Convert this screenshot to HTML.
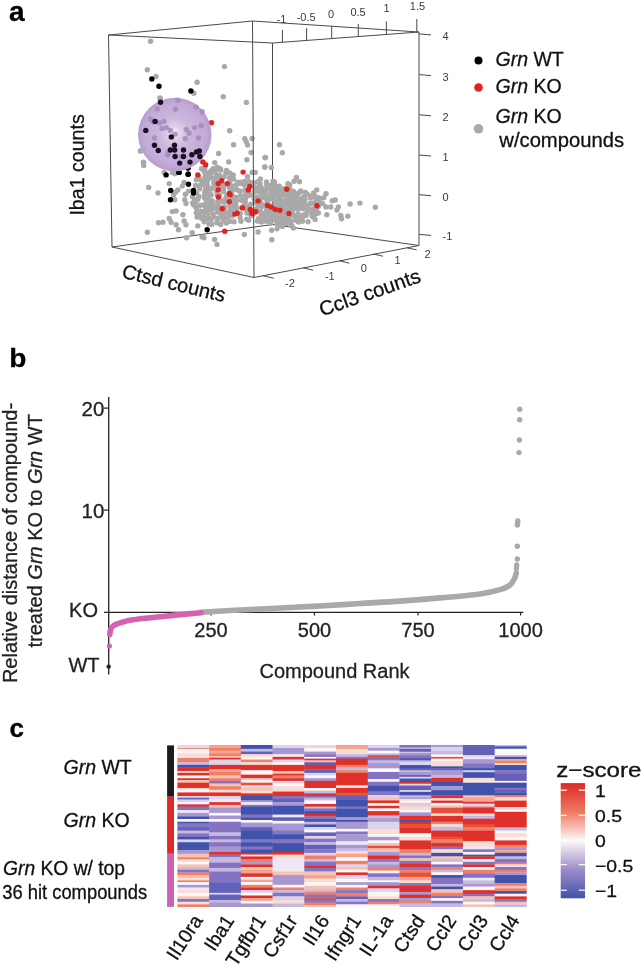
<!DOCTYPE html>
<html><head><meta charset="utf-8"><style>
html,body{margin:0;padding:0;background:#fff;width:643px;height:967px;overflow:hidden;}
svg{display:block;will-change:transform;}
text{font-family:"Liberation Sans",sans-serif;}
</style></head><body>
<svg width="643" height="967" viewBox="0 0 643 967">
<rect width="643" height="967" fill="#fff"/>
<text x="9" y="21" font-family="Liberation Sans, sans-serif" font-weight="bold" font-size="28" fill="#000" stroke="#000" stroke-width="0.3">a</text>
<line x1="272.5" y1="43" x2="108.5" y2="35" stroke="#4a4a4a" stroke-width="1"/>
<line x1="419" y1="32" x2="272.5" y2="43" stroke="#4a4a4a" stroke-width="1"/>
<line x1="272.5" y1="224.5" x2="112" y2="247" stroke="#4a4a4a" stroke-width="1"/>
<line x1="419" y1="245.5" x2="272.5" y2="224.5" stroke="#4a4a4a" stroke-width="1"/>
<line x1="272.5" y1="43" x2="272.5" y2="224.5" stroke="#4a4a4a" stroke-width="1"/>
<line x1="282.4" y1="42.3" x2="282.4" y2="29.9" stroke="#4a4a4a" stroke-width="1"/>
<text x="281.4" y="22.9" font-family="Liberation Sans, sans-serif" font-size="11" fill="#3a3a3a" text-anchor="middle">-1</text>
<line x1="306.6" y1="40.5" x2="306.6" y2="27.9" stroke="#4a4a4a" stroke-width="1"/>
<text x="306.2" y="21.1" font-family="Liberation Sans, sans-serif" font-size="11" fill="#3a3a3a" text-anchor="middle">-0.5</text>
<line x1="331.7" y1="38.6" x2="331.7" y2="25.9" stroke="#4a4a4a" stroke-width="1"/>
<text x="331.1" y="17.9" font-family="Liberation Sans, sans-serif" font-size="11" fill="#3a3a3a" text-anchor="middle">0</text>
<line x1="358.3" y1="36.6" x2="358.3" y2="23.9" stroke="#4a4a4a" stroke-width="1"/>
<text x="358.1" y="15.7" font-family="Liberation Sans, sans-serif" font-size="11" fill="#3a3a3a" text-anchor="middle">0.5</text>
<line x1="386.4" y1="34.5" x2="386.4" y2="21.4" stroke="#4a4a4a" stroke-width="1"/>
<text x="386.5" y="12.4" font-family="Liberation Sans, sans-serif" font-size="11" fill="#3a3a3a" text-anchor="middle">1</text>
<line x1="416.8" y1="32.3" x2="416.8" y2="19" stroke="#4a4a4a" stroke-width="1"/>
<text x="417.5" y="10" font-family="Liberation Sans, sans-serif" font-size="11" fill="#3a3a3a" text-anchor="middle">1.5</text>
<line x1="419" y1="33.9" x2="431" y2="34.9" stroke="#4a4a4a" stroke-width="1"/>
<text x="442.5" y="39.9" font-family="Liberation Sans, sans-serif" font-size="11" fill="#3a3a3a">4</text>
<line x1="419" y1="74.6" x2="431" y2="75.6" stroke="#4a4a4a" stroke-width="1"/>
<text x="442.5" y="80.6" font-family="Liberation Sans, sans-serif" font-size="11" fill="#3a3a3a">3</text>
<line x1="419" y1="114.8" x2="431" y2="115.8" stroke="#4a4a4a" stroke-width="1"/>
<text x="442.5" y="120.8" font-family="Liberation Sans, sans-serif" font-size="11" fill="#3a3a3a">2</text>
<line x1="419" y1="155" x2="431" y2="156" stroke="#4a4a4a" stroke-width="1"/>
<text x="442.5" y="161" font-family="Liberation Sans, sans-serif" font-size="11" fill="#3a3a3a">1</text>
<line x1="419" y1="194.7" x2="431" y2="195.7" stroke="#4a4a4a" stroke-width="1"/>
<text x="442.5" y="200.7" font-family="Liberation Sans, sans-serif" font-size="11" fill="#3a3a3a">0</text>
<line x1="419" y1="234.4" x2="431" y2="235.4" stroke="#4a4a4a" stroke-width="1"/>
<text x="442.5" y="240.4" font-family="Liberation Sans, sans-serif" font-size="11" fill="#3a3a3a">-1</text>
<line x1="262.6" y1="275.6" x2="273.8" y2="278.2" stroke="#4a4a4a" stroke-width="1"/>
<line x1="303.2" y1="267.8" x2="313" y2="270.2" stroke="#4a4a4a" stroke-width="1"/>
<line x1="339.6" y1="260.8" x2="349.4" y2="263.2" stroke="#4a4a4a" stroke-width="1"/>
<line x1="373.2" y1="254" x2="383" y2="256.2" stroke="#4a4a4a" stroke-width="1"/>
<line x1="406.8" y1="247.8" x2="416.6" y2="249.8" stroke="#4a4a4a" stroke-width="1"/>
<text x="290" y="287" font-family="Liberation Sans, sans-serif" font-size="11" fill="#3a3a3a" text-anchor="middle">-2</text>
<text x="329.8" y="279.5" font-family="Liberation Sans, sans-serif" font-size="11" fill="#3a3a3a" text-anchor="middle">-1</text>
<text x="363.9" y="271.5" font-family="Liberation Sans, sans-serif" font-size="11" fill="#3a3a3a" text-anchor="middle">0</text>
<text x="397.5" y="264.3" font-family="Liberation Sans, sans-serif" font-size="11" fill="#3a3a3a" text-anchor="middle">1</text>
<text x="427.6" y="258.3" font-family="Liberation Sans, sans-serif" font-size="11" fill="#3a3a3a" text-anchor="middle">2</text>
<text transform="translate(84,215.6) rotate(-90)" font-family="Liberation Sans, sans-serif" font-size="19.6" fill="#111" stroke="#111" stroke-width="0.3">Iba1 counts</text>
<text transform="translate(121,277.5) rotate(13.5)" font-family="Liberation Sans, sans-serif" font-size="20" fill="#111" stroke="#111" stroke-width="0.3">Ctsd counts</text>
<text transform="translate(322,316.5) rotate(-19.2)" font-family="Liberation Sans, sans-serif" font-size="20.3" fill="#111" stroke="#111" stroke-width="0.3">Ccl3 counts</text>
<circle cx="150.6" cy="41.2" r="2.7" fill="#a9a9a9"/>
<circle cx="147.3" cy="69.8" r="2.7" fill="#a9a9a9"/>
<circle cx="156.0" cy="76.5" r="2.7" fill="#a9a9a9"/>
<circle cx="197.1" cy="82.3" r="2.7" fill="#a9a9a9"/>
<circle cx="193.9" cy="93.2" r="2.7" fill="#a9a9a9"/>
<circle cx="224.5" cy="66.6" r="2.7" fill="#a9a9a9"/>
<circle cx="223.2" cy="96.7" r="2.7" fill="#a9a9a9"/>
<circle cx="246.4" cy="102.4" r="2.7" fill="#a9a9a9"/>
<circle cx="160.3" cy="99.2" r="2.7" fill="#a9a9a9"/>
<circle cx="229.7" cy="130.7" r="2.7" fill="#a9a9a9"/>
<circle cx="244.8" cy="138.8" r="2.7" fill="#a9a9a9"/>
<circle cx="246.2" cy="141.6" r="2.7" fill="#a9a9a9"/>
<circle cx="247.6" cy="145.1" r="2.7" fill="#a9a9a9"/>
<circle cx="252.1" cy="138.5" r="2.7" fill="#a9a9a9"/>
<circle cx="233.6" cy="144.7" r="2.7" fill="#a9a9a9"/>
<circle cx="218.6" cy="153.5" r="2.7" fill="#a9a9a9"/>
<circle cx="228.7" cy="161.9" r="2.7" fill="#a9a9a9"/>
<circle cx="246.9" cy="159.8" r="2.7" fill="#a9a9a9"/>
<circle cx="251.1" cy="152.5" r="2.7" fill="#a9a9a9"/>
<circle cx="265.1" cy="157.4" r="2.7" fill="#a9a9a9"/>
<circle cx="279.5" cy="144.8" r="2.7" fill="#a9a9a9"/>
<circle cx="282.3" cy="152.8" r="2.7" fill="#a9a9a9"/>
<circle cx="264.7" cy="167.1" r="2.7" fill="#a9a9a9"/>
<circle cx="271.4" cy="167.5" r="2.7" fill="#a9a9a9"/>
<circle cx="214.7" cy="162.6" r="2.7" fill="#a9a9a9"/>
<circle cx="255.3" cy="172.4" r="2.7" fill="#a9a9a9"/>
<circle cx="252.1" cy="172.4" r="2.7" fill="#a9a9a9"/>
<circle cx="247.6" cy="176.6" r="2.7" fill="#a9a9a9"/>
<circle cx="143.7" cy="163.1" r="2.7" fill="#a9a9a9"/>
<circle cx="143.7" cy="165.6" r="2.7" fill="#a9a9a9"/>
<circle cx="148.7" cy="187.4" r="2.7" fill="#a9a9a9"/>
<circle cx="158.0" cy="193.0" r="2.7" fill="#a9a9a9"/>
<circle cx="169.2" cy="183.6" r="2.7" fill="#a9a9a9"/>
<circle cx="174.8" cy="173.7" r="2.7" fill="#a9a9a9"/>
<circle cx="172.3" cy="172.4" r="2.7" fill="#a9a9a9"/>
<circle cx="164.2" cy="172.4" r="2.7" fill="#a9a9a9"/>
<circle cx="184.1" cy="182.4" r="2.7" fill="#a9a9a9"/>
<circle cx="182.3" cy="186.1" r="2.7" fill="#a9a9a9"/>
<circle cx="177.9" cy="189.9" r="2.7" fill="#a9a9a9"/>
<circle cx="175.4" cy="192.3" r="2.7" fill="#a9a9a9"/>
<circle cx="173.6" cy="194.8" r="2.7" fill="#a9a9a9"/>
<circle cx="185.4" cy="194.2" r="2.7" fill="#a9a9a9"/>
<circle cx="184.8" cy="199.8" r="2.7" fill="#a9a9a9"/>
<circle cx="174.8" cy="199.8" r="2.7" fill="#a9a9a9"/>
<circle cx="186.0" cy="203.5" r="2.7" fill="#a9a9a9"/>
<circle cx="188.5" cy="191.1" r="2.7" fill="#a9a9a9"/>
<circle cx="172.3" cy="211.6" r="2.7" fill="#a9a9a9"/>
<circle cx="176.1" cy="211.0" r="2.7" fill="#a9a9a9"/>
<circle cx="182.9" cy="214.7" r="2.7" fill="#a9a9a9"/>
<circle cx="169.2" cy="218.5" r="2.7" fill="#a9a9a9"/>
<circle cx="171.1" cy="222.2" r="2.7" fill="#a9a9a9"/>
<circle cx="158.6" cy="222.8" r="2.7" fill="#a9a9a9"/>
<circle cx="163.0" cy="222.2" r="2.7" fill="#a9a9a9"/>
<circle cx="176.1" cy="224.7" r="2.7" fill="#a9a9a9"/>
<circle cx="184.1" cy="221.0" r="2.7" fill="#a9a9a9"/>
<circle cx="186.0" cy="224.7" r="2.7" fill="#a9a9a9"/>
<circle cx="178.5" cy="229.7" r="2.7" fill="#a9a9a9"/>
<circle cx="147.4" cy="232.2" r="2.7" fill="#a9a9a9"/>
<circle cx="197.8" cy="225.9" r="2.7" fill="#a9a9a9"/>
<circle cx="192.2" cy="232.8" r="2.7" fill="#a9a9a9"/>
<circle cx="186.6" cy="237.8" r="2.7" fill="#a9a9a9"/>
<circle cx="204.0" cy="237.8" r="2.7" fill="#a9a9a9"/>
<circle cx="196.0" cy="207.3" r="2.7" fill="#a9a9a9"/>
<circle cx="194.7" cy="199.8" r="2.7" fill="#a9a9a9"/>
<circle cx="140.5" cy="150.9" r="2.7" fill="#a9a9a9"/>
<circle cx="202.1" cy="237.0" r="2.7" fill="#a9a9a9"/>
<circle cx="214.6" cy="239.4" r="2.7" fill="#a9a9a9"/>
<circle cx="217.0" cy="244.4" r="2.7" fill="#a9a9a9"/>
<circle cx="244.4" cy="234.5" r="2.7" fill="#a9a9a9"/>
<circle cx="258.1" cy="232.0" r="2.7" fill="#a9a9a9"/>
<circle cx="271.8" cy="239.7" r="2.7" fill="#a9a9a9"/>
<circle cx="296.4" cy="177.4" r="2.7" fill="#a9a9a9"/>
<circle cx="294.1" cy="181.3" r="2.7" fill="#a9a9a9"/>
<circle cx="299.5" cy="181.8" r="2.7" fill="#a9a9a9"/>
<circle cx="287.9" cy="183.7" r="2.7" fill="#a9a9a9"/>
<circle cx="278.6" cy="188.3" r="2.7" fill="#a9a9a9"/>
<circle cx="316.7" cy="189.9" r="2.7" fill="#a9a9a9"/>
<circle cx="313.5" cy="193.0" r="2.7" fill="#a9a9a9"/>
<circle cx="326.0" cy="193.8" r="2.7" fill="#a9a9a9"/>
<circle cx="323.7" cy="197.7" r="2.7" fill="#a9a9a9"/>
<circle cx="332.2" cy="200.8" r="2.7" fill="#a9a9a9"/>
<circle cx="335.3" cy="200.0" r="2.7" fill="#a9a9a9"/>
<circle cx="350.1" cy="203.9" r="2.7" fill="#a9a9a9"/>
<circle cx="359.9" cy="203.1" r="2.7" fill="#a9a9a9"/>
<circle cx="326.0" cy="207.0" r="2.7" fill="#a9a9a9"/>
<circle cx="330.7" cy="207.0" r="2.7" fill="#a9a9a9"/>
<circle cx="338.4" cy="207.0" r="2.7" fill="#a9a9a9"/>
<circle cx="336.9" cy="210.1" r="2.7" fill="#a9a9a9"/>
<circle cx="340.8" cy="215.5" r="2.7" fill="#a9a9a9"/>
<circle cx="341.5" cy="218.7" r="2.7" fill="#a9a9a9"/>
<circle cx="347.8" cy="216.3" r="2.7" fill="#a9a9a9"/>
<circle cx="326.8" cy="214.8" r="2.7" fill="#a9a9a9"/>
<circle cx="308.1" cy="221.8" r="2.7" fill="#a9a9a9"/>
<circle cx="315.1" cy="219.4" r="2.7" fill="#a9a9a9"/>
<circle cx="293.3" cy="228.0" r="2.7" fill="#a9a9a9"/>
<circle cx="282.4" cy="226.4" r="2.7" fill="#a9a9a9"/>
<circle cx="277.0" cy="228.8" r="2.7" fill="#a9a9a9"/>
<circle cx="271.6" cy="230.3" r="2.7" fill="#a9a9a9"/>
<circle cx="375.4" cy="207.3" r="2.7" fill="#a9a9a9"/>
<circle cx="265.4" cy="157.7" r="2.7" fill="#a9a9a9"/>
<circle cx="264.8" cy="167.0" r="2.7" fill="#a9a9a9"/>
<circle cx="140.5" cy="150.9" r="2.7" fill="#a9a9a9"/>
<circle cx="143.3" cy="162.1" r="2.7" fill="#a9a9a9"/>
<circle cx="160.0" cy="98.0" r="2.7" fill="#a9a9a9"/>
<circle cx="201.6" cy="168.7" r="2.7" fill="#a9a9a9"/>
<circle cx="205.0" cy="167.4" r="2.7" fill="#a9a9a9"/>
<circle cx="213.2" cy="168.6" r="2.7" fill="#a9a9a9"/>
<circle cx="217.1" cy="167.1" r="2.7" fill="#a9a9a9"/>
<circle cx="220.2" cy="168.7" r="2.7" fill="#a9a9a9"/>
<circle cx="204.4" cy="171.8" r="2.7" fill="#a9a9a9"/>
<circle cx="209.2" cy="172.1" r="2.7" fill="#a9a9a9"/>
<circle cx="211.5" cy="170.5" r="2.7" fill="#a9a9a9"/>
<circle cx="215.8" cy="170.4" r="2.7" fill="#a9a9a9"/>
<circle cx="220.8" cy="170.1" r="2.7" fill="#a9a9a9"/>
<circle cx="226.4" cy="170.5" r="2.7" fill="#a9a9a9"/>
<circle cx="227.5" cy="171.9" r="2.7" fill="#a9a9a9"/>
<circle cx="205.9" cy="174.4" r="2.7" fill="#a9a9a9"/>
<circle cx="207.9" cy="175.6" r="2.7" fill="#a9a9a9"/>
<circle cx="212.1" cy="172.9" r="2.7" fill="#a9a9a9"/>
<circle cx="216.9" cy="175.1" r="2.7" fill="#a9a9a9"/>
<circle cx="219.3" cy="175.3" r="2.7" fill="#a9a9a9"/>
<circle cx="225.9" cy="173.2" r="2.7" fill="#a9a9a9"/>
<circle cx="229.9" cy="173.1" r="2.7" fill="#a9a9a9"/>
<circle cx="233.2" cy="175.0" r="2.7" fill="#a9a9a9"/>
<circle cx="198.8" cy="176.9" r="2.7" fill="#a9a9a9"/>
<circle cx="205.0" cy="177.3" r="2.7" fill="#a9a9a9"/>
<circle cx="208.9" cy="176.6" r="2.7" fill="#a9a9a9"/>
<circle cx="211.4" cy="177.9" r="2.7" fill="#a9a9a9"/>
<circle cx="215.7" cy="177.9" r="2.7" fill="#a9a9a9"/>
<circle cx="220.4" cy="177.6" r="2.7" fill="#a9a9a9"/>
<circle cx="223.8" cy="176.9" r="2.7" fill="#a9a9a9"/>
<circle cx="229.4" cy="177.9" r="2.7" fill="#a9a9a9"/>
<circle cx="233.5" cy="179.0" r="2.7" fill="#a9a9a9"/>
<circle cx="260.5" cy="178.9" r="2.7" fill="#a9a9a9"/>
<circle cx="196.5" cy="179.8" r="2.7" fill="#a9a9a9"/>
<circle cx="201.4" cy="180.4" r="2.7" fill="#a9a9a9"/>
<circle cx="205.2" cy="181.1" r="2.7" fill="#a9a9a9"/>
<circle cx="207.4" cy="181.4" r="2.7" fill="#a9a9a9"/>
<circle cx="213.9" cy="182.4" r="2.7" fill="#a9a9a9"/>
<circle cx="217.9" cy="181.8" r="2.7" fill="#a9a9a9"/>
<circle cx="229.8" cy="182.3" r="2.7" fill="#a9a9a9"/>
<circle cx="237.8" cy="182.3" r="2.7" fill="#a9a9a9"/>
<circle cx="241.0" cy="182.1" r="2.7" fill="#a9a9a9"/>
<circle cx="244.9" cy="181.3" r="2.7" fill="#a9a9a9"/>
<circle cx="249.0" cy="181.8" r="2.7" fill="#a9a9a9"/>
<circle cx="252.7" cy="182.8" r="2.7" fill="#a9a9a9"/>
<circle cx="257.2" cy="181.9" r="2.7" fill="#a9a9a9"/>
<circle cx="266.4" cy="182.0" r="2.7" fill="#a9a9a9"/>
<circle cx="274.5" cy="182.2" r="2.7" fill="#a9a9a9"/>
<circle cx="195.5" cy="185.5" r="2.7" fill="#a9a9a9"/>
<circle cx="199.6" cy="185.7" r="2.7" fill="#a9a9a9"/>
<circle cx="202.8" cy="184.2" r="2.7" fill="#a9a9a9"/>
<circle cx="207.4" cy="185.8" r="2.7" fill="#a9a9a9"/>
<circle cx="213.9" cy="185.8" r="2.7" fill="#a9a9a9"/>
<circle cx="218.3" cy="186.4" r="2.7" fill="#a9a9a9"/>
<circle cx="222.1" cy="184.7" r="2.7" fill="#a9a9a9"/>
<circle cx="226.4" cy="184.1" r="2.7" fill="#a9a9a9"/>
<circle cx="230.4" cy="185.7" r="2.7" fill="#a9a9a9"/>
<circle cx="234.6" cy="186.0" r="2.7" fill="#a9a9a9"/>
<circle cx="236.0" cy="185.4" r="2.7" fill="#a9a9a9"/>
<circle cx="240.4" cy="183.5" r="2.7" fill="#a9a9a9"/>
<circle cx="244.2" cy="184.8" r="2.7" fill="#a9a9a9"/>
<circle cx="249.4" cy="184.2" r="2.7" fill="#a9a9a9"/>
<circle cx="253.3" cy="185.9" r="2.7" fill="#a9a9a9"/>
<circle cx="259.3" cy="186.4" r="2.7" fill="#a9a9a9"/>
<circle cx="266.8" cy="185.4" r="2.7" fill="#a9a9a9"/>
<circle cx="269.3" cy="185.6" r="2.7" fill="#a9a9a9"/>
<circle cx="274.4" cy="185.4" r="2.7" fill="#a9a9a9"/>
<circle cx="289.8" cy="184.7" r="2.7" fill="#a9a9a9"/>
<circle cx="199.7" cy="188.7" r="2.7" fill="#a9a9a9"/>
<circle cx="205.7" cy="188.3" r="2.7" fill="#a9a9a9"/>
<circle cx="207.2" cy="189.7" r="2.7" fill="#a9a9a9"/>
<circle cx="211.3" cy="188.7" r="2.7" fill="#a9a9a9"/>
<circle cx="217.3" cy="187.9" r="2.7" fill="#a9a9a9"/>
<circle cx="219.4" cy="187.6" r="2.7" fill="#a9a9a9"/>
<circle cx="223.6" cy="187.9" r="2.7" fill="#a9a9a9"/>
<circle cx="229.6" cy="187.8" r="2.7" fill="#a9a9a9"/>
<circle cx="232.6" cy="189.3" r="2.7" fill="#a9a9a9"/>
<circle cx="236.0" cy="189.2" r="2.7" fill="#a9a9a9"/>
<circle cx="245.2" cy="189.5" r="2.7" fill="#a9a9a9"/>
<circle cx="254.9" cy="187.7" r="2.7" fill="#a9a9a9"/>
<circle cx="257.3" cy="188.1" r="2.7" fill="#a9a9a9"/>
<circle cx="261.4" cy="187.6" r="2.7" fill="#a9a9a9"/>
<circle cx="266.9" cy="188.7" r="2.7" fill="#a9a9a9"/>
<circle cx="270.2" cy="187.5" r="2.7" fill="#a9a9a9"/>
<circle cx="275.3" cy="187.8" r="2.7" fill="#a9a9a9"/>
<circle cx="278.3" cy="188.7" r="2.7" fill="#a9a9a9"/>
<circle cx="283.8" cy="189.0" r="2.7" fill="#a9a9a9"/>
<circle cx="285.0" cy="188.7" r="2.7" fill="#a9a9a9"/>
<circle cx="289.2" cy="187.2" r="2.7" fill="#a9a9a9"/>
<circle cx="196.7" cy="193.2" r="2.7" fill="#a9a9a9"/>
<circle cx="204.8" cy="192.2" r="2.7" fill="#a9a9a9"/>
<circle cx="209.5" cy="191.9" r="2.7" fill="#a9a9a9"/>
<circle cx="216.3" cy="191.0" r="2.7" fill="#a9a9a9"/>
<circle cx="223.5" cy="191.5" r="2.7" fill="#a9a9a9"/>
<circle cx="229.5" cy="193.0" r="2.7" fill="#a9a9a9"/>
<circle cx="231.7" cy="192.0" r="2.7" fill="#a9a9a9"/>
<circle cx="238.5" cy="190.6" r="2.7" fill="#a9a9a9"/>
<circle cx="240.3" cy="191.2" r="2.7" fill="#a9a9a9"/>
<circle cx="246.1" cy="192.4" r="2.7" fill="#a9a9a9"/>
<circle cx="248.5" cy="191.4" r="2.7" fill="#a9a9a9"/>
<circle cx="254.4" cy="191.5" r="2.7" fill="#a9a9a9"/>
<circle cx="258.7" cy="192.0" r="2.7" fill="#a9a9a9"/>
<circle cx="263.0" cy="193.4" r="2.7" fill="#a9a9a9"/>
<circle cx="266.1" cy="193.6" r="2.7" fill="#a9a9a9"/>
<circle cx="275.1" cy="191.7" r="2.7" fill="#a9a9a9"/>
<circle cx="282.8" cy="191.3" r="2.7" fill="#a9a9a9"/>
<circle cx="286.3" cy="191.7" r="2.7" fill="#a9a9a9"/>
<circle cx="291.2" cy="192.4" r="2.7" fill="#a9a9a9"/>
<circle cx="293.5" cy="191.5" r="2.7" fill="#a9a9a9"/>
<circle cx="299.9" cy="192.2" r="2.7" fill="#a9a9a9"/>
<circle cx="192.4" cy="196.8" r="2.7" fill="#a9a9a9"/>
<circle cx="199.0" cy="196.7" r="2.7" fill="#a9a9a9"/>
<circle cx="204.5" cy="195.8" r="2.7" fill="#a9a9a9"/>
<circle cx="209.6" cy="195.1" r="2.7" fill="#a9a9a9"/>
<circle cx="211.2" cy="195.0" r="2.7" fill="#a9a9a9"/>
<circle cx="217.4" cy="195.2" r="2.7" fill="#a9a9a9"/>
<circle cx="219.5" cy="195.3" r="2.7" fill="#a9a9a9"/>
<circle cx="226.4" cy="196.7" r="2.7" fill="#a9a9a9"/>
<circle cx="227.4" cy="195.3" r="2.7" fill="#a9a9a9"/>
<circle cx="232.3" cy="195.9" r="2.7" fill="#a9a9a9"/>
<circle cx="235.6" cy="197.2" r="2.7" fill="#a9a9a9"/>
<circle cx="240.4" cy="196.0" r="2.7" fill="#a9a9a9"/>
<circle cx="245.0" cy="195.8" r="2.7" fill="#a9a9a9"/>
<circle cx="249.0" cy="195.3" r="2.7" fill="#a9a9a9"/>
<circle cx="252.8" cy="194.7" r="2.7" fill="#a9a9a9"/>
<circle cx="257.2" cy="197.1" r="2.7" fill="#a9a9a9"/>
<circle cx="262.5" cy="195.1" r="2.7" fill="#a9a9a9"/>
<circle cx="264.6" cy="194.5" r="2.7" fill="#a9a9a9"/>
<circle cx="270.6" cy="196.3" r="2.7" fill="#a9a9a9"/>
<circle cx="273.8" cy="196.7" r="2.7" fill="#a9a9a9"/>
<circle cx="276.9" cy="194.8" r="2.7" fill="#a9a9a9"/>
<circle cx="281.1" cy="195.4" r="2.7" fill="#a9a9a9"/>
<circle cx="287.7" cy="195.4" r="2.7" fill="#a9a9a9"/>
<circle cx="291.0" cy="196.5" r="2.7" fill="#a9a9a9"/>
<circle cx="294.2" cy="195.1" r="2.7" fill="#a9a9a9"/>
<circle cx="297.1" cy="195.4" r="2.7" fill="#a9a9a9"/>
<circle cx="304.3" cy="196.6" r="2.7" fill="#a9a9a9"/>
<circle cx="307.2" cy="194.1" r="2.7" fill="#a9a9a9"/>
<circle cx="310.5" cy="196.2" r="2.7" fill="#a9a9a9"/>
<circle cx="314.7" cy="195.7" r="2.7" fill="#a9a9a9"/>
<circle cx="197.8" cy="199.3" r="2.7" fill="#a9a9a9"/>
<circle cx="204.8" cy="198.3" r="2.7" fill="#a9a9a9"/>
<circle cx="207.7" cy="199.5" r="2.7" fill="#a9a9a9"/>
<circle cx="212.1" cy="200.6" r="2.7" fill="#a9a9a9"/>
<circle cx="219.6" cy="200.5" r="2.7" fill="#a9a9a9"/>
<circle cx="225.1" cy="199.4" r="2.7" fill="#a9a9a9"/>
<circle cx="230.3" cy="200.8" r="2.7" fill="#a9a9a9"/>
<circle cx="233.4" cy="198.0" r="2.7" fill="#a9a9a9"/>
<circle cx="236.5" cy="200.5" r="2.7" fill="#a9a9a9"/>
<circle cx="241.5" cy="200.3" r="2.7" fill="#a9a9a9"/>
<circle cx="245.6" cy="197.9" r="2.7" fill="#a9a9a9"/>
<circle cx="254.1" cy="198.6" r="2.7" fill="#a9a9a9"/>
<circle cx="258.5" cy="198.9" r="2.7" fill="#a9a9a9"/>
<circle cx="262.8" cy="197.7" r="2.7" fill="#a9a9a9"/>
<circle cx="265.8" cy="198.1" r="2.7" fill="#a9a9a9"/>
<circle cx="270.2" cy="198.2" r="2.7" fill="#a9a9a9"/>
<circle cx="273.3" cy="199.5" r="2.7" fill="#a9a9a9"/>
<circle cx="278.7" cy="197.8" r="2.7" fill="#a9a9a9"/>
<circle cx="281.2" cy="200.7" r="2.7" fill="#a9a9a9"/>
<circle cx="286.3" cy="199.0" r="2.7" fill="#a9a9a9"/>
<circle cx="291.1" cy="200.1" r="2.7" fill="#a9a9a9"/>
<circle cx="294.6" cy="200.8" r="2.7" fill="#a9a9a9"/>
<circle cx="299.8" cy="198.9" r="2.7" fill="#a9a9a9"/>
<circle cx="303.0" cy="200.5" r="2.7" fill="#a9a9a9"/>
<circle cx="310.4" cy="197.8" r="2.7" fill="#a9a9a9"/>
<circle cx="316.4" cy="200.0" r="2.7" fill="#a9a9a9"/>
<circle cx="320.0" cy="198.6" r="2.7" fill="#a9a9a9"/>
<circle cx="192.7" cy="202.9" r="2.7" fill="#a9a9a9"/>
<circle cx="195.6" cy="202.5" r="2.7" fill="#a9a9a9"/>
<circle cx="204.9" cy="204.0" r="2.7" fill="#a9a9a9"/>
<circle cx="209.5" cy="201.9" r="2.7" fill="#a9a9a9"/>
<circle cx="212.8" cy="204.1" r="2.7" fill="#a9a9a9"/>
<circle cx="217.6" cy="201.6" r="2.7" fill="#a9a9a9"/>
<circle cx="222.2" cy="201.2" r="2.7" fill="#a9a9a9"/>
<circle cx="224.3" cy="202.2" r="2.7" fill="#a9a9a9"/>
<circle cx="230.3" cy="203.8" r="2.7" fill="#a9a9a9"/>
<circle cx="232.6" cy="203.1" r="2.7" fill="#a9a9a9"/>
<circle cx="235.7" cy="204.1" r="2.7" fill="#a9a9a9"/>
<circle cx="245.3" cy="201.9" r="2.7" fill="#a9a9a9"/>
<circle cx="250.9" cy="204.1" r="2.7" fill="#a9a9a9"/>
<circle cx="254.7" cy="202.3" r="2.7" fill="#a9a9a9"/>
<circle cx="260.8" cy="203.2" r="2.7" fill="#a9a9a9"/>
<circle cx="267.1" cy="201.4" r="2.7" fill="#a9a9a9"/>
<circle cx="275.3" cy="203.5" r="2.7" fill="#a9a9a9"/>
<circle cx="278.8" cy="204.2" r="2.7" fill="#a9a9a9"/>
<circle cx="281.0" cy="201.9" r="2.7" fill="#a9a9a9"/>
<circle cx="287.1" cy="201.8" r="2.7" fill="#a9a9a9"/>
<circle cx="289.7" cy="203.3" r="2.7" fill="#a9a9a9"/>
<circle cx="299.0" cy="201.9" r="2.7" fill="#a9a9a9"/>
<circle cx="304.2" cy="203.3" r="2.7" fill="#a9a9a9"/>
<circle cx="310.8" cy="202.9" r="2.7" fill="#a9a9a9"/>
<circle cx="313.6" cy="203.1" r="2.7" fill="#a9a9a9"/>
<circle cx="318.4" cy="203.8" r="2.7" fill="#a9a9a9"/>
<circle cx="322.6" cy="203.6" r="2.7" fill="#a9a9a9"/>
<circle cx="193.7" cy="204.9" r="2.7" fill="#a9a9a9"/>
<circle cx="200.3" cy="205.3" r="2.7" fill="#a9a9a9"/>
<circle cx="204.9" cy="205.9" r="2.7" fill="#a9a9a9"/>
<circle cx="209.4" cy="206.4" r="2.7" fill="#a9a9a9"/>
<circle cx="213.7" cy="207.0" r="2.7" fill="#a9a9a9"/>
<circle cx="218.1" cy="205.3" r="2.7" fill="#a9a9a9"/>
<circle cx="219.7" cy="206.7" r="2.7" fill="#a9a9a9"/>
<circle cx="224.7" cy="207.2" r="2.7" fill="#a9a9a9"/>
<circle cx="229.9" cy="205.5" r="2.7" fill="#a9a9a9"/>
<circle cx="232.2" cy="206.6" r="2.7" fill="#a9a9a9"/>
<circle cx="235.7" cy="206.7" r="2.7" fill="#a9a9a9"/>
<circle cx="241.5" cy="207.6" r="2.7" fill="#a9a9a9"/>
<circle cx="244.3" cy="204.8" r="2.7" fill="#a9a9a9"/>
<circle cx="249.3" cy="206.2" r="2.7" fill="#a9a9a9"/>
<circle cx="257.9" cy="206.5" r="2.7" fill="#a9a9a9"/>
<circle cx="261.0" cy="205.2" r="2.7" fill="#a9a9a9"/>
<circle cx="264.4" cy="205.8" r="2.7" fill="#a9a9a9"/>
<circle cx="270.1" cy="205.6" r="2.7" fill="#a9a9a9"/>
<circle cx="272.8" cy="207.4" r="2.7" fill="#a9a9a9"/>
<circle cx="277.4" cy="205.3" r="2.7" fill="#a9a9a9"/>
<circle cx="283.4" cy="207.3" r="2.7" fill="#a9a9a9"/>
<circle cx="286.1" cy="205.9" r="2.7" fill="#a9a9a9"/>
<circle cx="292.0" cy="204.9" r="2.7" fill="#a9a9a9"/>
<circle cx="295.4" cy="207.9" r="2.7" fill="#a9a9a9"/>
<circle cx="298.6" cy="207.2" r="2.7" fill="#a9a9a9"/>
<circle cx="302.0" cy="207.6" r="2.7" fill="#a9a9a9"/>
<circle cx="306.6" cy="205.7" r="2.7" fill="#a9a9a9"/>
<circle cx="315.9" cy="207.1" r="2.7" fill="#a9a9a9"/>
<circle cx="318.4" cy="206.5" r="2.7" fill="#a9a9a9"/>
<circle cx="196.7" cy="208.5" r="2.7" fill="#a9a9a9"/>
<circle cx="200.9" cy="211.1" r="2.7" fill="#a9a9a9"/>
<circle cx="205.6" cy="209.8" r="2.7" fill="#a9a9a9"/>
<circle cx="209.6" cy="209.6" r="2.7" fill="#a9a9a9"/>
<circle cx="211.7" cy="209.4" r="2.7" fill="#a9a9a9"/>
<circle cx="216.9" cy="208.9" r="2.7" fill="#a9a9a9"/>
<circle cx="219.9" cy="209.8" r="2.7" fill="#a9a9a9"/>
<circle cx="224.7" cy="211.5" r="2.7" fill="#a9a9a9"/>
<circle cx="230.2" cy="209.0" r="2.7" fill="#a9a9a9"/>
<circle cx="231.7" cy="210.6" r="2.7" fill="#a9a9a9"/>
<circle cx="236.5" cy="208.4" r="2.7" fill="#a9a9a9"/>
<circle cx="246.1" cy="209.2" r="2.7" fill="#a9a9a9"/>
<circle cx="248.4" cy="211.3" r="2.7" fill="#a9a9a9"/>
<circle cx="256.2" cy="209.4" r="2.7" fill="#a9a9a9"/>
<circle cx="260.5" cy="211.2" r="2.7" fill="#a9a9a9"/>
<circle cx="266.8" cy="210.0" r="2.7" fill="#a9a9a9"/>
<circle cx="269.7" cy="209.1" r="2.7" fill="#a9a9a9"/>
<circle cx="273.0" cy="210.2" r="2.7" fill="#a9a9a9"/>
<circle cx="277.6" cy="209.7" r="2.7" fill="#a9a9a9"/>
<circle cx="281.1" cy="210.6" r="2.7" fill="#a9a9a9"/>
<circle cx="287.1" cy="210.5" r="2.7" fill="#a9a9a9"/>
<circle cx="289.6" cy="209.2" r="2.7" fill="#a9a9a9"/>
<circle cx="297.8" cy="209.3" r="2.7" fill="#a9a9a9"/>
<circle cx="301.9" cy="208.5" r="2.7" fill="#a9a9a9"/>
<circle cx="307.3" cy="210.1" r="2.7" fill="#a9a9a9"/>
<circle cx="312.5" cy="209.3" r="2.7" fill="#a9a9a9"/>
<circle cx="316.4" cy="209.0" r="2.7" fill="#a9a9a9"/>
<circle cx="196.2" cy="212.8" r="2.7" fill="#a9a9a9"/>
<circle cx="200.0" cy="213.4" r="2.7" fill="#a9a9a9"/>
<circle cx="204.9" cy="212.7" r="2.7" fill="#a9a9a9"/>
<circle cx="208.0" cy="213.3" r="2.7" fill="#a9a9a9"/>
<circle cx="212.9" cy="214.1" r="2.7" fill="#a9a9a9"/>
<circle cx="217.3" cy="212.0" r="2.7" fill="#a9a9a9"/>
<circle cx="220.4" cy="212.1" r="2.7" fill="#a9a9a9"/>
<circle cx="223.5" cy="213.5" r="2.7" fill="#a9a9a9"/>
<circle cx="228.9" cy="212.9" r="2.7" fill="#a9a9a9"/>
<circle cx="237.4" cy="212.7" r="2.7" fill="#a9a9a9"/>
<circle cx="240.3" cy="213.4" r="2.7" fill="#a9a9a9"/>
<circle cx="246.9" cy="213.1" r="2.7" fill="#a9a9a9"/>
<circle cx="250.9" cy="214.4" r="2.7" fill="#a9a9a9"/>
<circle cx="254.0" cy="213.2" r="2.7" fill="#a9a9a9"/>
<circle cx="261.4" cy="214.8" r="2.7" fill="#a9a9a9"/>
<circle cx="264.7" cy="213.5" r="2.7" fill="#a9a9a9"/>
<circle cx="269.6" cy="215.0" r="2.7" fill="#a9a9a9"/>
<circle cx="273.1" cy="212.6" r="2.7" fill="#a9a9a9"/>
<circle cx="277.4" cy="211.9" r="2.7" fill="#a9a9a9"/>
<circle cx="282.0" cy="212.7" r="2.7" fill="#a9a9a9"/>
<circle cx="286.9" cy="213.7" r="2.7" fill="#a9a9a9"/>
<circle cx="298.1" cy="214.2" r="2.7" fill="#a9a9a9"/>
<circle cx="303.4" cy="215.0" r="2.7" fill="#a9a9a9"/>
<circle cx="305.8" cy="213.9" r="2.7" fill="#a9a9a9"/>
<circle cx="311.2" cy="213.1" r="2.7" fill="#a9a9a9"/>
<circle cx="315.9" cy="213.6" r="2.7" fill="#a9a9a9"/>
<circle cx="318.4" cy="212.9" r="2.7" fill="#a9a9a9"/>
<circle cx="197.1" cy="217.0" r="2.7" fill="#a9a9a9"/>
<circle cx="201.5" cy="218.3" r="2.7" fill="#a9a9a9"/>
<circle cx="203.6" cy="217.1" r="2.7" fill="#a9a9a9"/>
<circle cx="208.2" cy="217.8" r="2.7" fill="#a9a9a9"/>
<circle cx="213.3" cy="216.5" r="2.7" fill="#a9a9a9"/>
<circle cx="217.5" cy="218.2" r="2.7" fill="#a9a9a9"/>
<circle cx="221.0" cy="216.8" r="2.7" fill="#a9a9a9"/>
<circle cx="225.3" cy="218.1" r="2.7" fill="#a9a9a9"/>
<circle cx="227.8" cy="216.7" r="2.7" fill="#a9a9a9"/>
<circle cx="232.2" cy="216.1" r="2.7" fill="#a9a9a9"/>
<circle cx="240.1" cy="217.7" r="2.7" fill="#a9a9a9"/>
<circle cx="251.1" cy="215.6" r="2.7" fill="#a9a9a9"/>
<circle cx="252.4" cy="215.6" r="2.7" fill="#a9a9a9"/>
<circle cx="258.4" cy="218.7" r="2.7" fill="#a9a9a9"/>
<circle cx="261.3" cy="215.6" r="2.7" fill="#a9a9a9"/>
<circle cx="265.8" cy="216.7" r="2.7" fill="#a9a9a9"/>
<circle cx="271.0" cy="218.2" r="2.7" fill="#a9a9a9"/>
<circle cx="273.8" cy="217.4" r="2.7" fill="#a9a9a9"/>
<circle cx="279.7" cy="216.7" r="2.7" fill="#a9a9a9"/>
<circle cx="282.4" cy="218.0" r="2.7" fill="#a9a9a9"/>
<circle cx="289.7" cy="217.0" r="2.7" fill="#a9a9a9"/>
<circle cx="294.0" cy="215.5" r="2.7" fill="#a9a9a9"/>
<circle cx="297.6" cy="217.5" r="2.7" fill="#a9a9a9"/>
<circle cx="301.9" cy="217.0" r="2.7" fill="#a9a9a9"/>
<circle cx="306.1" cy="215.6" r="2.7" fill="#a9a9a9"/>
<circle cx="312.3" cy="216.5" r="2.7" fill="#a9a9a9"/>
<circle cx="204.2" cy="221.7" r="2.7" fill="#a9a9a9"/>
<circle cx="207.5" cy="219.1" r="2.7" fill="#a9a9a9"/>
<circle cx="211.4" cy="219.3" r="2.7" fill="#a9a9a9"/>
<circle cx="217.5" cy="220.0" r="2.7" fill="#a9a9a9"/>
<circle cx="223.3" cy="220.7" r="2.7" fill="#a9a9a9"/>
<circle cx="229.9" cy="221.4" r="2.7" fill="#a9a9a9"/>
<circle cx="234.1" cy="221.7" r="2.7" fill="#a9a9a9"/>
<circle cx="241.0" cy="221.3" r="2.7" fill="#a9a9a9"/>
<circle cx="246.7" cy="219.1" r="2.7" fill="#a9a9a9"/>
<circle cx="248.6" cy="220.3" r="2.7" fill="#a9a9a9"/>
<circle cx="257.3" cy="221.1" r="2.7" fill="#a9a9a9"/>
<circle cx="261.1" cy="221.9" r="2.7" fill="#a9a9a9"/>
<circle cx="264.6" cy="220.1" r="2.7" fill="#a9a9a9"/>
<circle cx="269.1" cy="221.4" r="2.7" fill="#a9a9a9"/>
<circle cx="274.7" cy="219.6" r="2.7" fill="#a9a9a9"/>
<circle cx="277.1" cy="220.2" r="2.7" fill="#a9a9a9"/>
<circle cx="280.7" cy="220.6" r="2.7" fill="#a9a9a9"/>
<circle cx="289.6" cy="221.9" r="2.7" fill="#a9a9a9"/>
<circle cx="298.5" cy="222.1" r="2.7" fill="#a9a9a9"/>
<circle cx="302.5" cy="221.3" r="2.7" fill="#a9a9a9"/>
<circle cx="209.0" cy="223.9" r="2.7" fill="#a9a9a9"/>
<circle cx="211.7" cy="224.5" r="2.7" fill="#a9a9a9"/>
<circle cx="216.7" cy="222.7" r="2.7" fill="#a9a9a9"/>
<circle cx="220.6" cy="224.5" r="2.7" fill="#a9a9a9"/>
<circle cx="226.3" cy="223.1" r="2.7" fill="#a9a9a9"/>
<circle cx="270.7" cy="223.4" r="2.7" fill="#a9a9a9"/>
<circle cx="277.2" cy="223.5" r="2.7" fill="#a9a9a9"/>
<circle cx="280.9" cy="224.4" r="2.7" fill="#a9a9a9"/>
<circle cx="286.4" cy="223.4" r="2.7" fill="#a9a9a9"/>
<circle cx="291.6" cy="225.1" r="2.7" fill="#a9a9a9"/>
<circle cx="286.6" cy="205.9" r="2.7" fill="#a9a9a9"/>
<circle cx="287.2" cy="220.5" r="2.7" fill="#a9a9a9"/>
<circle cx="262.3" cy="220.5" r="2.7" fill="#a9a9a9"/>
<circle cx="291.7" cy="198.3" r="2.7" fill="#a9a9a9"/>
<circle cx="297.9" cy="221.2" r="2.7" fill="#a9a9a9"/>
<circle cx="312.3" cy="214.7" r="2.7" fill="#a9a9a9"/>
<circle cx="262.7" cy="193.0" r="2.7" fill="#a9a9a9"/>
<circle cx="273.3" cy="183.6" r="2.7" fill="#a9a9a9"/>
<circle cx="289.2" cy="210.7" r="2.7" fill="#a9a9a9"/>
<circle cx="294.8" cy="203.0" r="2.7" fill="#a9a9a9"/>
<circle cx="318.3" cy="197.7" r="2.7" fill="#a9a9a9"/>
<circle cx="276.0" cy="215.0" r="2.7" fill="#a9a9a9"/>
<circle cx="273.1" cy="196.4" r="2.7" fill="#a9a9a9"/>
<circle cx="285.0" cy="201.8" r="2.7" fill="#a9a9a9"/>
<circle cx="280.1" cy="199.5" r="2.7" fill="#a9a9a9"/>
<circle cx="292.0" cy="205.4" r="2.7" fill="#a9a9a9"/>
<circle cx="283.0" cy="189.1" r="2.7" fill="#a9a9a9"/>
<circle cx="261.9" cy="196.6" r="2.7" fill="#a9a9a9"/>
<circle cx="277.0" cy="202.2" r="2.7" fill="#a9a9a9"/>
<circle cx="271.1" cy="215.5" r="2.7" fill="#a9a9a9"/>
<circle cx="296.9" cy="196.4" r="2.7" fill="#a9a9a9"/>
<circle cx="276.1" cy="208.5" r="2.7" fill="#a9a9a9"/>
<circle cx="296.3" cy="193.8" r="2.7" fill="#a9a9a9"/>
<circle cx="289.8" cy="203.8" r="2.7" fill="#a9a9a9"/>
<circle cx="261.5" cy="190.6" r="2.7" fill="#a9a9a9"/>
<circle cx="273.9" cy="217.8" r="2.7" fill="#a9a9a9"/>
<circle cx="284.8" cy="221.0" r="2.7" fill="#a9a9a9"/>
<circle cx="283.2" cy="192.3" r="2.7" fill="#a9a9a9"/>
<circle cx="278.0" cy="193.9" r="2.7" fill="#a9a9a9"/>
<circle cx="298.7" cy="205.6" r="2.7" fill="#a9a9a9"/>
<circle cx="307.7" cy="207.0" r="2.7" fill="#a9a9a9"/>
<circle cx="284.3" cy="212.0" r="2.7" fill="#a9a9a9"/>
<circle cx="285.8" cy="215.6" r="2.7" fill="#a9a9a9"/>
<circle cx="281.4" cy="200.4" r="2.7" fill="#a9a9a9"/>
<circle cx="277.4" cy="214.7" r="2.7" fill="#a9a9a9"/>
<circle cx="260.0" cy="183.8" r="2.7" fill="#a9a9a9"/>
<circle cx="313.4" cy="211.3" r="2.7" fill="#a9a9a9"/>
<circle cx="263.3" cy="193.5" r="2.7" fill="#a9a9a9"/>
<circle cx="284.0" cy="204.8" r="2.7" fill="#a9a9a9"/>
<circle cx="316.2" cy="201.6" r="2.7" fill="#a9a9a9"/>
<circle cx="281.4" cy="211.7" r="2.7" fill="#a9a9a9"/>
<circle cx="320.0" cy="202.7" r="2.7" fill="#a9a9a9"/>
<circle cx="303.3" cy="197.4" r="2.7" fill="#a9a9a9"/>
<circle cx="279.2" cy="186.2" r="2.7" fill="#a9a9a9"/>
<circle cx="279.5" cy="207.6" r="2.7" fill="#a9a9a9"/>
<circle cx="291.4" cy="197.4" r="2.7" fill="#a9a9a9"/>
<circle cx="295.2" cy="220.1" r="2.7" fill="#a9a9a9"/>
<circle cx="280.1" cy="207.2" r="2.7" fill="#a9a9a9"/>
<circle cx="278.0" cy="212.9" r="2.7" fill="#a9a9a9"/>
<circle cx="271.4" cy="191.1" r="2.7" fill="#a9a9a9"/>
<circle cx="306.1" cy="206.7" r="2.7" fill="#a9a9a9"/>
<circle cx="273.0" cy="181.2" r="2.7" fill="#a9a9a9"/>
<circle cx="312.7" cy="196.9" r="2.7" fill="#a9a9a9"/>
<circle cx="305.2" cy="199.6" r="2.7" fill="#a9a9a9"/>
<circle cx="298.2" cy="206.0" r="2.7" fill="#a9a9a9"/>
<circle cx="286.9" cy="202.3" r="2.7" fill="#a9a9a9"/>
<circle cx="271.2" cy="215.7" r="2.7" fill="#a9a9a9"/>
<circle cx="262.2" cy="193.3" r="2.7" fill="#a9a9a9"/>
<circle cx="303.9" cy="206.4" r="2.7" fill="#a9a9a9"/>
<circle cx="293.6" cy="194.7" r="2.7" fill="#a9a9a9"/>
<circle cx="261.8" cy="217.2" r="2.7" fill="#a9a9a9"/>
<circle cx="270.3" cy="188.0" r="2.7" fill="#a9a9a9"/>
<circle cx="292.4" cy="208.5" r="2.7" fill="#a9a9a9"/>
<circle cx="263.5" cy="216.2" r="2.7" fill="#a9a9a9"/>
<circle cx="280.5" cy="225.6" r="2.7" fill="#a9a9a9"/>
<circle cx="305.3" cy="192.5" r="2.7" fill="#a9a9a9"/>
<circle cx="315.0" cy="214.3" r="2.7" fill="#a9a9a9"/>
<circle cx="273.5" cy="190.5" r="2.7" fill="#a9a9a9"/>
<circle cx="272.7" cy="192.7" r="2.7" fill="#a9a9a9"/>
<circle cx="272.7" cy="184.6" r="2.7" fill="#a9a9a9"/>
<circle cx="288.9" cy="191.6" r="2.7" fill="#a9a9a9"/>
<circle cx="275.0" cy="191.9" r="2.7" fill="#a9a9a9"/>
<circle cx="290.6" cy="221.7" r="2.7" fill="#a9a9a9"/>
<circle cx="266.2" cy="221.0" r="2.7" fill="#a9a9a9"/>
<circle cx="314.8" cy="208.5" r="2.7" fill="#a9a9a9"/>
<circle cx="293.1" cy="214.7" r="2.7" fill="#a9a9a9"/>
<circle cx="292.4" cy="211.0" r="2.7" fill="#a9a9a9"/>
<circle cx="286.7" cy="196.5" r="2.7" fill="#a9a9a9"/>
<circle cx="290.4" cy="206.3" r="2.7" fill="#a9a9a9"/>
<circle cx="279.4" cy="189.6" r="2.7" fill="#a9a9a9"/>
<circle cx="262.1" cy="206.3" r="2.7" fill="#a9a9a9"/>
<circle cx="276.7" cy="221.6" r="2.7" fill="#a9a9a9"/>
<circle cx="309.9" cy="204.1" r="2.7" fill="#a9a9a9"/>
<circle cx="260.4" cy="204.3" r="2.7" fill="#a9a9a9"/>
<circle cx="267.9" cy="204.3" r="2.7" fill="#a9a9a9"/>
<circle cx="279.8" cy="202.9" r="2.7" fill="#a9a9a9"/>
<circle cx="268.8" cy="213.3" r="2.7" fill="#a9a9a9"/>
<circle cx="284.2" cy="202.3" r="2.7" fill="#a9a9a9"/>
<circle cx="260.5" cy="202.3" r="2.7" fill="#a9a9a9"/>
<circle cx="276.0" cy="194.8" r="2.7" fill="#a9a9a9"/>
<circle cx="289.3" cy="207.5" r="2.7" fill="#a9a9a9"/>
<circle cx="303.0" cy="208.6" r="2.7" fill="#a9a9a9"/>
<circle cx="261.0" cy="204.0" r="2.7" fill="#a9a9a9"/>
<circle cx="262.8" cy="221.5" r="2.7" fill="#a9a9a9"/>
<circle cx="303.2" cy="204.0" r="2.7" fill="#a9a9a9"/>
<circle cx="295.6" cy="215.9" r="2.7" fill="#a9a9a9"/>
<circle cx="283.5" cy="194.8" r="2.7" fill="#a9a9a9"/>
<circle cx="296.0" cy="204.3" r="2.7" fill="#a9a9a9"/>
<circle cx="278.5" cy="211.7" r="2.7" fill="#a9a9a9"/>
<circle cx="286.8" cy="189.7" r="2.7" fill="#a9a9a9"/>
<circle cx="265.5" cy="190.7" r="2.7" fill="#a9a9a9"/>
<circle cx="288.5" cy="217.2" r="2.7" fill="#a9a9a9"/>
<circle cx="278.3" cy="189.9" r="2.7" fill="#a9a9a9"/>
<circle cx="300.8" cy="191.0" r="2.7" fill="#a9a9a9"/>
<circle cx="291.6" cy="190.7" r="2.7" fill="#a9a9a9"/>
<circle cx="271.3" cy="193.1" r="2.7" fill="#a9a9a9"/>
<circle cx="278.1" cy="214.3" r="2.7" fill="#a9a9a9"/>
<circle cx="302.2" cy="217.5" r="2.7" fill="#a9a9a9"/>
<circle cx="270.2" cy="198.7" r="2.7" fill="#a9a9a9"/>
<circle cx="280.0" cy="223.6" r="2.7" fill="#a9a9a9"/>
<circle cx="151.8" cy="79.0" r="2.7" fill="#000"/>
<circle cx="159.0" cy="86.2" r="2.7" fill="#000"/>
<circle cx="190.9" cy="91.0" r="2.7" fill="#000"/>
<circle cx="188.1" cy="167.7" r="2.7" fill="#000"/>
<circle cx="178.8" cy="172.4" r="2.7" fill="#000"/>
<circle cx="188.1" cy="174.3" r="2.7" fill="#000"/>
<circle cx="166.1" cy="174.9" r="2.7" fill="#000"/>
<circle cx="179.2" cy="172.4" r="2.7" fill="#000"/>
<circle cx="187.9" cy="168.1" r="2.7" fill="#000"/>
<circle cx="188.3" cy="174.3" r="2.7" fill="#000"/>
<circle cx="188.5" cy="184.3" r="2.7" fill="#000"/>
<circle cx="170.7" cy="190.5" r="2.7" fill="#000"/>
<circle cx="193.5" cy="190.5" r="2.7" fill="#000"/>
<circle cx="193.5" cy="193.0" r="2.7" fill="#000"/>
<circle cx="170.5" cy="199.8" r="2.7" fill="#000"/>
<circle cx="207.2" cy="229.7" r="2.7" fill="#000"/>
<circle cx="211.5" cy="122.7" r="2.7" fill="#e3231d"/>
<circle cx="202.8" cy="161.9" r="2.7" fill="#e3231d"/>
<circle cx="205.6" cy="164.7" r="2.7" fill="#e3231d"/>
<circle cx="197.8" cy="174.9" r="2.7" fill="#e3231d"/>
<circle cx="243.1" cy="172.1" r="2.7" fill="#e3231d"/>
<circle cx="221.7" cy="180.8" r="2.7" fill="#e3231d"/>
<circle cx="227.3" cy="183.6" r="2.7" fill="#e3231d"/>
<circle cx="218.2" cy="183.6" r="2.7" fill="#e3231d"/>
<circle cx="218.2" cy="189.9" r="2.7" fill="#e3231d"/>
<circle cx="249.7" cy="186.4" r="2.7" fill="#e3231d"/>
<circle cx="248.3" cy="189.9" r="2.7" fill="#e3231d"/>
<circle cx="229.4" cy="193.4" r="2.7" fill="#e3231d"/>
<circle cx="230.1" cy="194.7" r="2.7" fill="#e3231d"/>
<circle cx="218.4" cy="197.0" r="2.7" fill="#e3231d"/>
<circle cx="229.3" cy="201.7" r="2.7" fill="#e3231d"/>
<circle cx="258.1" cy="200.9" r="2.7" fill="#e3231d"/>
<circle cx="242.5" cy="207.9" r="2.7" fill="#e3231d"/>
<circle cx="250.3" cy="209.4" r="2.7" fill="#e3231d"/>
<circle cx="251.9" cy="213.3" r="2.7" fill="#e3231d"/>
<circle cx="255.8" cy="211.8" r="2.7" fill="#e3231d"/>
<circle cx="234.8" cy="214.1" r="2.7" fill="#e3231d"/>
<circle cx="237.1" cy="213.3" r="2.7" fill="#e3231d"/>
<circle cx="222.3" cy="208.7" r="2.7" fill="#e3231d"/>
<circle cx="224.7" cy="231.2" r="2.7" fill="#e3231d"/>
<circle cx="267.4" cy="205.5" r="2.7" fill="#e3231d"/>
<circle cx="271.3" cy="207.1" r="2.7" fill="#e3231d"/>
<circle cx="275.2" cy="209.4" r="2.7" fill="#e3231d"/>
<circle cx="279.9" cy="210.2" r="2.7" fill="#e3231d"/>
<circle cx="286.8" cy="189.2" r="2.7" fill="#e3231d"/>
<circle cx="289.0" cy="213.4" r="2.7" fill="#e3231d"/>
<circle cx="317.0" cy="205.8" r="2.7" fill="#e3231d"/>
<defs><radialGradient id="sph" cx="0.5" cy="0.5" r="0.5" fx="0.5" fy="0.47"><stop offset="0" stop-color="#f7f2f9"/><stop offset="0.14" stop-color="#e2d3ea"/><stop offset="0.42" stop-color="#ccb7dd"/><stop offset="0.85" stop-color="#c2aad6"/><stop offset="1" stop-color="#b69dcb"/></radialGradient></defs>
<circle cx="174.8" cy="134.5" r="36.7" fill="url(#sph)"/>
<circle cx="177.9" cy="100.2" r="2.7" fill="#a68dbf" opacity="0.9"/>
<circle cx="157.3" cy="108.9" r="2.7" fill="#a68dbf" opacity="0.9"/>
<circle cx="175.4" cy="109.3" r="2.7" fill="#a68dbf" opacity="0.9"/>
<circle cx="196.1" cy="107.1" r="2.7" fill="#a68dbf" opacity="0.9"/>
<circle cx="202.1" cy="111.7" r="2.7" fill="#a68dbf" opacity="0.9"/>
<circle cx="150.4" cy="119.2" r="2.7" fill="#a68dbf" opacity="0.9"/>
<circle cx="153.6" cy="122.0" r="2.7" fill="#a68dbf" opacity="0.9"/>
<circle cx="159.2" cy="122.9" r="2.7" fill="#a68dbf" opacity="0.9"/>
<circle cx="163.9" cy="121.4" r="2.7" fill="#a68dbf" opacity="0.9"/>
<circle cx="162.0" cy="128.5" r="2.7" fill="#a68dbf" opacity="0.9"/>
<circle cx="166.3" cy="127.6" r="2.7" fill="#a68dbf" opacity="0.9"/>
<circle cx="170.4" cy="130.4" r="2.7" fill="#a68dbf" opacity="0.9"/>
<circle cx="175.1" cy="134.1" r="2.7" fill="#a68dbf" opacity="0.9"/>
<circle cx="186.3" cy="129.5" r="2.7" fill="#a68dbf" opacity="0.9"/>
<circle cx="189.0" cy="133.2" r="2.7" fill="#a68dbf" opacity="0.9"/>
<circle cx="194.7" cy="127.6" r="2.7" fill="#a68dbf" opacity="0.9"/>
<circle cx="201.2" cy="125.7" r="2.7" fill="#a68dbf" opacity="0.9"/>
<circle cx="185.3" cy="138.8" r="2.7" fill="#a68dbf" opacity="0.9"/>
<circle cx="198.4" cy="137.9" r="2.7" fill="#a68dbf" opacity="0.9"/>
<circle cx="154.5" cy="137.9" r="2.7" fill="#a68dbf" opacity="0.9"/>
<circle cx="168.5" cy="151.9" r="2.7" fill="#a68dbf" opacity="0.9"/>
<circle cx="167.6" cy="154.7" r="2.7" fill="#a68dbf" opacity="0.9"/>
<circle cx="181.6" cy="156.5" r="2.7" fill="#a68dbf" opacity="0.9"/>
<circle cx="160.5" cy="102.2" r="2.7" fill="#1d0e26"/>
<circle cx="155.1" cy="121.4" r="2.7" fill="#1d0e26"/>
<circle cx="145.8" cy="130.4" r="2.7" fill="#1d0e26"/>
<circle cx="171.3" cy="136.9" r="2.7" fill="#1d0e26"/>
<circle cx="154.5" cy="145.3" r="2.7" fill="#1d0e26"/>
<circle cx="158.3" cy="150.5" r="2.7" fill="#1d0e26"/>
<circle cx="174.5" cy="145.3" r="2.7" fill="#1d0e26"/>
<circle cx="170.4" cy="150.0" r="2.7" fill="#1d0e26"/>
<circle cx="174.7" cy="150.0" r="2.7" fill="#1d0e26"/>
<circle cx="183.5" cy="150.0" r="2.7" fill="#1d0e26"/>
<circle cx="196.5" cy="151.9" r="2.7" fill="#1d0e26"/>
<circle cx="199.3" cy="150.9" r="2.7" fill="#1d0e26"/>
<circle cx="175.1" cy="156.5" r="2.7" fill="#1d0e26"/>
<circle cx="183.5" cy="156.5" r="2.7" fill="#1d0e26"/>
<circle cx="191.9" cy="154.7" r="2.7" fill="#1d0e26"/>
<circle cx="199.9" cy="156.5" r="2.7" fill="#1d0e26"/>
<circle cx="179.7" cy="163.1" r="2.7" fill="#1d0e26"/>
<circle cx="190.0" cy="162.1" r="2.7" fill="#1d0e26"/>
<line x1="108.5" y1="35" x2="252.5" y2="21" stroke="#4a4a4a" stroke-width="1"/>
<line x1="252.5" y1="21" x2="419" y2="32" stroke="#4a4a4a" stroke-width="1"/>
<line x1="112" y1="247" x2="254" y2="277.5" stroke="#4a4a4a" stroke-width="1"/>
<line x1="254" y1="277.5" x2="419" y2="245.5" stroke="#4a4a4a" stroke-width="1"/>
<line x1="108.5" y1="35" x2="112" y2="247" stroke="#4a4a4a" stroke-width="1"/>
<line x1="419" y1="32" x2="419" y2="245.5" stroke="#4a4a4a" stroke-width="1"/>
<line x1="252.5" y1="21" x2="254" y2="277.5" stroke="#4a4a4a" stroke-width="1"/>
<circle cx="478.5" cy="60.5" r="4" fill="#000"/><circle cx="478.5" cy="87.5" r="4.3" fill="#e0251f"/><circle cx="478.5" cy="128.8" r="4.8" fill="#aaa"/>
<text x="495.5" y="65.5" font-family="Liberation Sans, sans-serif" font-size="19.5" fill="#111" stroke="#111" stroke-width="0.3"><tspan font-style="italic">Grn</tspan> WT</text>
<text x="495.5" y="93" font-family="Liberation Sans, sans-serif" font-size="19.5" fill="#111" stroke="#111" stroke-width="0.3"><tspan font-style="italic">Grn</tspan> KO</text>
<text x="495.5" y="122.5" font-family="Liberation Sans, sans-serif" font-size="19.5" fill="#111" stroke="#111" stroke-width="0.3"><tspan font-style="italic">Grn</tspan> KO</text>
<text transform="translate(499.3,146.8) scale(1.037,1)" font-family="Liberation Sans, sans-serif" font-size="19.5" fill="#111" stroke="#111" stroke-width="0.3">w/compounds</text>
<text transform="translate(9.2,367.4) scale(1.06,1)" font-family="Liberation Sans, sans-serif" font-weight="bold" font-size="26.5" fill="#000" stroke="#000" stroke-width="0.3">b</text>
<line x1="108.7" y1="397" x2="108.7" y2="674.6" stroke="#222" stroke-width="1.3"/>
<line x1="104" y1="408.1" x2="108.7" y2="408.1" stroke="#222" stroke-width="1.2"/>
<text x="104.3" y="416.3" font-family="Liberation Sans, sans-serif" font-size="20.5" fill="#222" stroke="#222" stroke-width="0.3" text-anchor="end">20</text>
<line x1="104" y1="510.1" x2="108.7" y2="510.1" stroke="#222" stroke-width="1.2"/>
<text x="104.3" y="518.3000000000001" font-family="Liberation Sans, sans-serif" font-size="20.5" fill="#222" stroke="#222" stroke-width="0.3" text-anchor="end">10</text>
<line x1="104" y1="612.4" x2="523.4" y2="612.4" stroke="#222" stroke-width="1.3"/>
<text x="98" y="616.5" font-family="Liberation Sans, sans-serif" font-size="20" fill="#222" stroke="#222" stroke-width="0.3" text-anchor="end">KO</text>
<text x="99.5" y="671.5" font-family="Liberation Sans, sans-serif" font-size="20" fill="#222" stroke="#222" stroke-width="0.3" text-anchor="end">WT</text>
<line x1="211" y1="612.4" x2="211" y2="615.5" stroke="#222" stroke-width="1.2"/>
<text x="211" y="637" font-family="Liberation Sans, sans-serif" font-size="20" fill="#222" stroke="#222" stroke-width="0.3" text-anchor="middle">250</text>
<line x1="314.5" y1="612.4" x2="314.5" y2="615.5" stroke="#222" stroke-width="1.2"/>
<text x="314.5" y="637" font-family="Liberation Sans, sans-serif" font-size="20" fill="#222" stroke="#222" stroke-width="0.3" text-anchor="middle">500</text>
<line x1="418" y1="612.4" x2="418" y2="615.5" stroke="#222" stroke-width="1.2"/>
<text x="418" y="637" font-family="Liberation Sans, sans-serif" font-size="20" fill="#222" stroke="#222" stroke-width="0.3" text-anchor="middle">750</text>
<line x1="520.6" y1="612.4" x2="520.6" y2="615.5" stroke="#222" stroke-width="1.2"/>
<text x="520.6" y="637" font-family="Liberation Sans, sans-serif" font-size="20" fill="#222" stroke="#222" stroke-width="0.3" text-anchor="middle">1000</text>
<text x="334.5" y="678" font-family="Liberation Sans, sans-serif" font-size="20" fill="#222" stroke="#222" stroke-width="0.3" text-anchor="middle">Compound Rank</text>
<text transform="translate(17,543) rotate(-90)" font-family="Liberation Sans, sans-serif" font-size="20" fill="#222" stroke="#222" stroke-width="0.3" text-anchor="middle">Relative distance of compound-</text>
<text transform="translate(42.3,530.8) rotate(-90)" font-family="Liberation Sans, sans-serif" font-size="20" fill="#222" stroke="#222" stroke-width="0.3" text-anchor="middle">treated <tspan font-style="italic">Grn</tspan> KO to <tspan font-style="italic">Grn</tspan> WT</text>
<path d="M201,612.2 C207.50,611.83 226.83,610.70 240,610 C253.17,609.30 266.67,608.67 280,608 C293.33,607.33 306.67,606.75 320,606 C333.33,605.25 346.67,604.32 360,603.5 C373.33,602.68 386.67,602.03 400,601.1 C413.33,600.17 426.67,599.10 440,597.9 C453.33,596.70 470.00,595.28 480,593.9 C490.00,592.52 495.00,591.08 500,589.6 C505.00,588.12 507.58,586.85 510,585 C512.42,583.15 513.45,580.50 514.5,578.5 C515.55,576.50 516.00,573.92 516.3,573" fill="none" stroke="#a9a9a9" stroke-width="5.6" stroke-linecap="round"/>
<path d="M109.8,634.5 C109.93,633.67 110.07,630.92 110.6,629.5 C111.13,628.08 111.93,626.95 113,626 C114.07,625.05 115.50,624.42 117,623.8 C118.50,623.18 119.83,622.88 122,622.3 C124.17,621.72 126.17,620.97 130,620.3 C133.83,619.63 140.00,618.88 145,618.3 C150.00,617.72 154.17,617.42 160,616.8 C165.83,616.18 173.17,615.28 180,614.6 C186.83,613.92 197.50,613.02 201,612.7" fill="none" stroke="#d462b0" stroke-width="5.6" stroke-linecap="round"/>
<circle cx="519.7" cy="409.3" r="2.7" fill="#a9a9a9"/>
<circle cx="519.7" cy="419.7" r="2.7" fill="#a9a9a9"/>
<circle cx="519.4" cy="440" r="2.7" fill="#a9a9a9"/>
<circle cx="519" cy="452.6" r="2.7" fill="#a9a9a9"/>
<circle cx="517.8" cy="521" r="2.7" fill="#a9a9a9"/>
<circle cx="517.6" cy="523.5" r="2.7" fill="#a9a9a9"/>
<circle cx="517.4" cy="525" r="2.7" fill="#a9a9a9"/>
<circle cx="517.3" cy="546.3" r="2.7" fill="#a9a9a9"/>
<circle cx="517.3" cy="559" r="2.7" fill="#a9a9a9"/>
<circle cx="516.7" cy="565" r="2.7" fill="#a9a9a9"/>
<circle cx="516.4" cy="568.5" r="2.7" fill="#a9a9a9"/>
<circle cx="109.4" cy="646" r="2.6" fill="#d462b0"/><circle cx="108.7" cy="666.6" r="2.2" fill="#222"/>
<text x="9.5" y="737" font-family="Liberation Sans, sans-serif" font-weight="bold" font-size="26" fill="#000" stroke="#000" stroke-width="0.3">c</text>
<text x="63.5" y="774" font-family="Liberation Sans, sans-serif" font-size="19.5" fill="#111" stroke="#111" stroke-width="0.3"><tspan font-style="italic">Grn</tspan> WT</text>
<text x="63.5" y="826.7" font-family="Liberation Sans, sans-serif" font-size="19.5" fill="#111" stroke="#111" stroke-width="0.3"><tspan font-style="italic">Grn</tspan> KO</text>
<text transform="translate(3,874.5) scale(0.988,1)" font-family="Liberation Sans, sans-serif" font-size="19.5" fill="#111" stroke="#111" stroke-width="0.3"><tspan font-style="italic">Grn</tspan> KO w/ top</text>
<text transform="translate(2.2,899) scale(0.942,1)" font-family="Liberation Sans, sans-serif" font-size="19.5" fill="#111" stroke="#111" stroke-width="0.3">36 hit compounds</text>
<rect x="167.1" y="745.4" width="6.9" height="51.3" fill="#1c1c1c"/>
<rect x="167.1" y="796.7" width="6.9" height="57.1" fill="#e0282a"/>
<rect x="167.1" y="853.8" width="6.9" height="53.1" fill="#cc62b2"/>
<rect x="177.40" y="744.98" width="32.03" height="3.32" fill="#ead6e6"/>
<rect x="177.40" y="748.00" width="32.03" height="1.19" fill="#ef7f68"/>
<rect x="177.40" y="748.89" width="32.03" height="4.74" fill="#fcf7f6"/>
<rect x="177.40" y="753.33" width="32.03" height="3.85" fill="#f9dcd3"/>
<rect x="177.40" y="756.88" width="32.03" height="1.19" fill="#fcf7f6"/>
<rect x="177.40" y="757.77" width="32.03" height="4.74" fill="#ef7f68"/>
<rect x="177.40" y="762.21" width="32.03" height="2.97" fill="#c5b9e0"/>
<rect x="177.40" y="764.88" width="32.03" height="2.97" fill="#4152ac"/>
<rect x="177.40" y="767.55" width="32.03" height="3.85" fill="#e0302a"/>
<rect x="177.40" y="771.10" width="32.03" height="2.08" fill="#f9dcd3"/>
<rect x="177.40" y="772.88" width="32.03" height="2.97" fill="#e0302a"/>
<rect x="177.40" y="775.54" width="32.03" height="2.97" fill="#fcf7f6"/>
<rect x="177.40" y="778.21" width="32.03" height="2.08" fill="#e0302a"/>
<rect x="177.40" y="779.99" width="32.03" height="2.97" fill="#f6c2b2"/>
<rect x="177.40" y="782.65" width="32.03" height="5.63" fill="#e0302a"/>
<rect x="177.40" y="787.98" width="32.03" height="2.08" fill="#f9dcd3"/>
<rect x="177.40" y="789.76" width="32.03" height="2.97" fill="#fcf7f6"/>
<rect x="177.40" y="792.43" width="32.03" height="3.85" fill="#e0302a"/>
<rect x="177.40" y="795.98" width="32.03" height="2.08" fill="#dcd3ec"/>
<rect x="177.40" y="797.76" width="32.03" height="2.08" fill="#6360b8"/>
<rect x="177.40" y="799.53" width="32.03" height="2.97" fill="#dcd3ec"/>
<rect x="177.40" y="802.20" width="32.03" height="2.43" fill="#fcf7f6"/>
<rect x="177.40" y="804.33" width="32.03" height="2.61" fill="#e0302a"/>
<rect x="177.40" y="806.64" width="32.03" height="3.85" fill="#8473c3"/>
<rect x="177.40" y="810.20" width="32.03" height="2.97" fill="#efe8f4"/>
<rect x="177.40" y="812.86" width="32.03" height="3.85" fill="#a797d3"/>
<rect x="177.40" y="816.42" width="32.03" height="2.97" fill="#4152ac"/>
<rect x="177.40" y="819.08" width="32.03" height="2.97" fill="#fcf7f6"/>
<rect x="177.40" y="821.75" width="32.03" height="2.08" fill="#4152ac"/>
<rect x="177.40" y="823.53" width="32.03" height="3.85" fill="#8473c3"/>
<rect x="177.40" y="827.08" width="32.03" height="3.85" fill="#6360b8"/>
<rect x="177.40" y="830.63" width="32.03" height="2.97" fill="#c5b9e0"/>
<rect x="177.40" y="833.30" width="32.03" height="3.85" fill="#8473c3"/>
<rect x="177.40" y="836.85" width="32.03" height="2.97" fill="#4152ac"/>
<rect x="177.40" y="839.52" width="32.03" height="2.97" fill="#dcd3ec"/>
<rect x="177.40" y="842.19" width="32.03" height="8.30" fill="#4152ac"/>
<rect x="177.40" y="850.18" width="32.03" height="3.85" fill="#a797d3"/>
<rect x="177.40" y="853.74" width="32.03" height="3.85" fill="#f6c2b2"/>
<rect x="177.40" y="857.29" width="32.03" height="2.43" fill="#ef7f68"/>
<rect x="177.40" y="859.42" width="32.03" height="2.61" fill="#f9dcd3"/>
<rect x="177.40" y="861.73" width="32.03" height="2.97" fill="#fcf7f6"/>
<rect x="177.40" y="864.40" width="32.03" height="2.97" fill="#f6c2b2"/>
<rect x="177.40" y="867.07" width="32.03" height="2.97" fill="#c5b9e0"/>
<rect x="177.40" y="869.73" width="32.03" height="2.97" fill="#8473c3"/>
<rect x="177.40" y="872.40" width="32.03" height="2.97" fill="#ef7f68"/>
<rect x="177.40" y="875.06" width="32.03" height="2.97" fill="#f6c2b2"/>
<rect x="177.40" y="877.73" width="32.03" height="2.97" fill="#f9dcd3"/>
<rect x="177.40" y="880.39" width="32.03" height="2.08" fill="#ef7f68"/>
<rect x="177.40" y="882.17" width="32.03" height="2.97" fill="#fcf7f6"/>
<rect x="177.40" y="884.84" width="32.03" height="2.97" fill="#a797d3"/>
<rect x="177.40" y="887.50" width="32.03" height="2.97" fill="#efe8f4"/>
<rect x="177.40" y="890.17" width="32.03" height="2.97" fill="#f9dcd3"/>
<rect x="177.40" y="892.83" width="32.03" height="3.85" fill="#fcf7f6"/>
<rect x="177.40" y="896.39" width="32.03" height="2.97" fill="#f6c2b2"/>
<rect x="177.40" y="899.05" width="32.03" height="2.97" fill="#8473c3"/>
<rect x="177.40" y="901.72" width="32.03" height="2.97" fill="#f9dcd3"/>
<rect x="177.40" y="904.39" width="32.03" height="2.61" fill="#ef7f68"/>
<rect x="209.13" y="744.98" width="32.03" height="3.32" fill="#f4a48e"/>
<rect x="209.13" y="748.00" width="32.03" height="2.97" fill="#ef7f68"/>
<rect x="209.13" y="750.66" width="32.03" height="2.97" fill="#f4a48e"/>
<rect x="209.13" y="753.33" width="32.03" height="2.97" fill="#ef7f68"/>
<rect x="209.13" y="755.99" width="32.03" height="2.08" fill="#f6c2b2"/>
<rect x="209.13" y="757.77" width="32.03" height="2.08" fill="#e0302a"/>
<rect x="209.13" y="759.55" width="32.03" height="5.63" fill="#dcd3ec"/>
<rect x="209.13" y="764.88" width="32.03" height="4.74" fill="#e0302a"/>
<rect x="209.13" y="769.32" width="32.03" height="2.97" fill="#f4a48e"/>
<rect x="209.13" y="771.99" width="32.03" height="3.85" fill="#ef7f68"/>
<rect x="209.13" y="775.54" width="32.03" height="2.97" fill="#f6c2b2"/>
<rect x="209.13" y="778.21" width="32.03" height="2.97" fill="#ef7f68"/>
<rect x="209.13" y="780.87" width="32.03" height="2.97" fill="#8473c3"/>
<rect x="209.13" y="783.54" width="32.03" height="2.97" fill="#f6c2b2"/>
<rect x="209.13" y="786.21" width="32.03" height="3.85" fill="#ef7f68"/>
<rect x="209.13" y="789.76" width="32.03" height="2.97" fill="#f9dcd3"/>
<rect x="209.13" y="792.43" width="32.03" height="3.85" fill="#e0302a"/>
<rect x="209.13" y="795.98" width="32.03" height="2.97" fill="#dcd3ec"/>
<rect x="209.13" y="798.65" width="32.03" height="3.85" fill="#efe8f4"/>
<rect x="209.13" y="802.20" width="32.03" height="2.97" fill="#e0302a"/>
<rect x="209.13" y="804.87" width="32.03" height="2.97" fill="#f6c2b2"/>
<rect x="209.13" y="807.53" width="32.03" height="5.63" fill="#a797d3"/>
<rect x="209.13" y="812.86" width="32.03" height="2.97" fill="#fcf7f6"/>
<rect x="209.13" y="815.53" width="32.03" height="3.85" fill="#a797d3"/>
<rect x="209.13" y="819.08" width="32.03" height="2.97" fill="#fcf7f6"/>
<rect x="209.13" y="821.75" width="32.03" height="10.96" fill="#8473c3"/>
<rect x="209.13" y="832.41" width="32.03" height="3.85" fill="#c5b9e0"/>
<rect x="209.13" y="835.97" width="32.03" height="3.85" fill="#8473c3"/>
<rect x="209.13" y="839.52" width="32.03" height="2.97" fill="#c5b9e0"/>
<rect x="209.13" y="842.19" width="32.03" height="4.74" fill="#8473c3"/>
<rect x="209.13" y="846.63" width="32.03" height="5.63" fill="#a797d3"/>
<rect x="209.13" y="851.96" width="32.03" height="2.97" fill="#e0302a"/>
<rect x="209.13" y="854.63" width="32.03" height="2.97" fill="#8473c3"/>
<rect x="209.13" y="857.29" width="32.03" height="5.63" fill="#c5b9e0"/>
<rect x="209.13" y="862.62" width="32.03" height="5.63" fill="#8473c3"/>
<rect x="209.13" y="867.95" width="32.03" height="3.85" fill="#c5b9e0"/>
<rect x="209.13" y="871.51" width="32.03" height="10.96" fill="#8473c3"/>
<rect x="209.13" y="882.17" width="32.03" height="10.96" fill="#6360b8"/>
<rect x="209.13" y="892.83" width="32.03" height="2.08" fill="#dcd3ec"/>
<rect x="209.13" y="894.61" width="32.03" height="5.63" fill="#6360b8"/>
<rect x="209.13" y="899.94" width="32.03" height="2.97" fill="#c5b9e0"/>
<rect x="209.13" y="902.61" width="32.03" height="4.39" fill="#a797d3"/>
<rect x="240.85" y="744.98" width="32.03" height="4.21" fill="#4152ac"/>
<rect x="240.85" y="748.89" width="32.03" height="2.97" fill="#c5b9e0"/>
<rect x="240.85" y="751.55" width="32.03" height="2.97" fill="#6360b8"/>
<rect x="240.85" y="754.22" width="32.03" height="2.97" fill="#f9dcd3"/>
<rect x="240.85" y="756.88" width="32.03" height="2.97" fill="#fcf7f6"/>
<rect x="240.85" y="759.55" width="32.03" height="2.97" fill="#ef7f68"/>
<rect x="240.85" y="762.21" width="32.03" height="2.97" fill="#f9dcd3"/>
<rect x="240.85" y="764.88" width="32.03" height="5.63" fill="#e0302a"/>
<rect x="240.85" y="770.21" width="32.03" height="4.74" fill="#fcf7f6"/>
<rect x="240.85" y="774.65" width="32.03" height="3.85" fill="#e0302a"/>
<rect x="240.85" y="778.21" width="32.03" height="2.08" fill="#f6c2b2"/>
<rect x="240.85" y="779.99" width="32.03" height="2.97" fill="#fcf7f6"/>
<rect x="240.85" y="782.65" width="32.03" height="2.97" fill="#e65038"/>
<rect x="240.85" y="785.32" width="32.03" height="2.97" fill="#dcd3ec"/>
<rect x="240.85" y="787.98" width="32.03" height="2.97" fill="#f6c2b2"/>
<rect x="240.85" y="790.65" width="32.03" height="2.97" fill="#f9dcd3"/>
<rect x="240.85" y="793.31" width="32.03" height="2.97" fill="#e0302a"/>
<rect x="240.85" y="795.98" width="32.03" height="4.74" fill="#4152ac"/>
<rect x="240.85" y="800.42" width="32.03" height="2.08" fill="#a797d3"/>
<rect x="240.85" y="802.20" width="32.03" height="2.97" fill="#efe8f4"/>
<rect x="240.85" y="804.87" width="32.03" height="2.08" fill="#8473c3"/>
<rect x="240.85" y="806.64" width="32.03" height="8.30" fill="#4152ac"/>
<rect x="240.85" y="814.64" width="32.03" height="2.97" fill="#8473c3"/>
<rect x="240.85" y="817.31" width="32.03" height="2.97" fill="#4152ac"/>
<rect x="240.85" y="819.97" width="32.03" height="2.97" fill="#fcf7f6"/>
<rect x="240.85" y="822.64" width="32.03" height="4.74" fill="#a797d3"/>
<rect x="240.85" y="827.08" width="32.03" height="3.85" fill="#6360b8"/>
<rect x="240.85" y="830.63" width="32.03" height="9.19" fill="#4152ac"/>
<rect x="240.85" y="839.52" width="32.03" height="2.97" fill="#8473c3"/>
<rect x="240.85" y="842.19" width="32.03" height="4.74" fill="#4152ac"/>
<rect x="240.85" y="846.63" width="32.03" height="2.97" fill="#8473c3"/>
<rect x="240.85" y="849.29" width="32.03" height="3.85" fill="#4152ac"/>
<rect x="240.85" y="852.85" width="32.03" height="2.08" fill="#e0302a"/>
<rect x="240.85" y="854.63" width="32.03" height="2.08" fill="#fcf7f6"/>
<rect x="240.85" y="856.40" width="32.03" height="2.97" fill="#e0302a"/>
<rect x="240.85" y="859.07" width="32.03" height="2.97" fill="#ef7f68"/>
<rect x="240.85" y="861.73" width="32.03" height="2.97" fill="#a797d3"/>
<rect x="240.85" y="864.40" width="32.03" height="2.97" fill="#e0302a"/>
<rect x="240.85" y="867.07" width="32.03" height="2.97" fill="#f6c2b2"/>
<rect x="240.85" y="869.73" width="32.03" height="3.85" fill="#f4a48e"/>
<rect x="240.85" y="873.29" width="32.03" height="3.85" fill="#e0302a"/>
<rect x="240.85" y="876.84" width="32.03" height="2.97" fill="#fcf7f6"/>
<rect x="240.85" y="879.51" width="32.03" height="2.97" fill="#f4a48e"/>
<rect x="240.85" y="882.17" width="32.03" height="2.97" fill="#fcf7f6"/>
<rect x="240.85" y="884.84" width="32.03" height="2.97" fill="#ef7f68"/>
<rect x="240.85" y="887.50" width="32.03" height="2.97" fill="#e0302a"/>
<rect x="240.85" y="890.17" width="32.03" height="2.97" fill="#dcd3ec"/>
<rect x="240.85" y="892.83" width="32.03" height="2.97" fill="#fcf7f6"/>
<rect x="240.85" y="895.50" width="32.03" height="2.97" fill="#e0302a"/>
<rect x="240.85" y="898.17" width="32.03" height="2.97" fill="#f4a48e"/>
<rect x="240.85" y="900.83" width="32.03" height="2.97" fill="#fcf7f6"/>
<rect x="240.85" y="903.50" width="32.03" height="3.50" fill="#a797d3"/>
<rect x="272.58" y="744.98" width="32.03" height="3.32" fill="#dcd3ec"/>
<rect x="272.58" y="748.00" width="32.03" height="6.52" fill="#a797d3"/>
<rect x="272.58" y="754.22" width="32.03" height="2.97" fill="#efe8f4"/>
<rect x="272.58" y="756.88" width="32.03" height="2.97" fill="#e0302a"/>
<rect x="272.58" y="759.55" width="32.03" height="2.97" fill="#dcd3ec"/>
<rect x="272.58" y="762.21" width="32.03" height="2.97" fill="#fcf7f6"/>
<rect x="272.58" y="764.88" width="32.03" height="6.52" fill="#e0302a"/>
<rect x="272.58" y="771.10" width="32.03" height="2.97" fill="#f6c2b2"/>
<rect x="272.58" y="773.77" width="32.03" height="2.08" fill="#e0302a"/>
<rect x="272.58" y="775.54" width="32.03" height="2.97" fill="#ef7f68"/>
<rect x="272.58" y="778.21" width="32.03" height="2.97" fill="#e0302a"/>
<rect x="272.58" y="780.87" width="32.03" height="2.97" fill="#dcd3ec"/>
<rect x="272.58" y="783.54" width="32.03" height="2.97" fill="#fcf7f6"/>
<rect x="272.58" y="786.21" width="32.03" height="5.63" fill="#f9dcd3"/>
<rect x="272.58" y="791.54" width="32.03" height="4.74" fill="#e0302a"/>
<rect x="272.58" y="795.98" width="32.03" height="2.97" fill="#8473c3"/>
<rect x="272.58" y="798.65" width="32.03" height="3.85" fill="#6360b8"/>
<rect x="272.58" y="802.20" width="32.03" height="3.85" fill="#a797d3"/>
<rect x="272.58" y="805.75" width="32.03" height="9.19" fill="#4152ac"/>
<rect x="272.58" y="814.64" width="32.03" height="2.97" fill="#efe8f4"/>
<rect x="272.58" y="817.31" width="32.03" height="3.85" fill="#6360b8"/>
<rect x="272.58" y="820.86" width="32.03" height="2.97" fill="#fcf7f6"/>
<rect x="272.58" y="823.53" width="32.03" height="7.41" fill="#a797d3"/>
<rect x="272.58" y="830.63" width="32.03" height="3.85" fill="#8473c3"/>
<rect x="272.58" y="834.19" width="32.03" height="5.63" fill="#4152ac"/>
<rect x="272.58" y="839.52" width="32.03" height="3.85" fill="#8473c3"/>
<rect x="272.58" y="843.07" width="32.03" height="9.19" fill="#4152ac"/>
<rect x="272.58" y="851.96" width="32.03" height="2.97" fill="#e0302a"/>
<rect x="272.58" y="854.63" width="32.03" height="3.85" fill="#f9dcd3"/>
<rect x="272.58" y="858.18" width="32.03" height="13.63" fill="#efe8f4"/>
<rect x="272.58" y="871.51" width="32.03" height="3.85" fill="#f6c2b2"/>
<rect x="272.58" y="875.06" width="32.03" height="10.07" fill="#a797d3"/>
<rect x="272.58" y="884.84" width="32.03" height="2.97" fill="#fcf7f6"/>
<rect x="272.58" y="887.50" width="32.03" height="2.97" fill="#ef7f68"/>
<rect x="272.58" y="890.17" width="32.03" height="2.97" fill="#c5b9e0"/>
<rect x="272.58" y="892.83" width="32.03" height="3.85" fill="#8473c3"/>
<rect x="272.58" y="896.39" width="32.03" height="3.85" fill="#dcd3ec"/>
<rect x="272.58" y="899.94" width="32.03" height="3.85" fill="#f9dcd3"/>
<rect x="272.58" y="903.50" width="32.03" height="3.50" fill="#c5b9e0"/>
<rect x="304.31" y="744.98" width="32.03" height="3.32" fill="#ead6e6"/>
<rect x="304.31" y="748.00" width="32.03" height="3.85" fill="#fcf7f6"/>
<rect x="304.31" y="751.55" width="32.03" height="2.97" fill="#a797d3"/>
<rect x="304.31" y="754.22" width="32.03" height="2.97" fill="#8473c3"/>
<rect x="304.31" y="756.88" width="32.03" height="2.08" fill="#fcf7f6"/>
<rect x="304.31" y="758.66" width="32.03" height="2.08" fill="#e0302a"/>
<rect x="304.31" y="760.44" width="32.03" height="2.08" fill="#f6c2b2"/>
<rect x="304.31" y="762.21" width="32.03" height="2.97" fill="#6360b8"/>
<rect x="304.31" y="764.88" width="32.03" height="4.74" fill="#e0302a"/>
<rect x="304.31" y="769.32" width="32.03" height="3.85" fill="#6360b8"/>
<rect x="304.31" y="772.88" width="32.03" height="2.97" fill="#dcd3ec"/>
<rect x="304.31" y="775.54" width="32.03" height="2.97" fill="#fcf7f6"/>
<rect x="304.31" y="778.21" width="32.03" height="2.97" fill="#a797d3"/>
<rect x="304.31" y="780.87" width="32.03" height="7.41" fill="#e0302a"/>
<rect x="304.31" y="787.98" width="32.03" height="2.97" fill="#fcf7f6"/>
<rect x="304.31" y="790.65" width="32.03" height="2.97" fill="#c5b9e0"/>
<rect x="304.31" y="793.31" width="32.03" height="2.97" fill="#e0302a"/>
<rect x="304.31" y="795.98" width="32.03" height="2.08" fill="#8473c3"/>
<rect x="304.31" y="797.76" width="32.03" height="2.97" fill="#c5b9e0"/>
<rect x="304.31" y="800.42" width="32.03" height="3.85" fill="#fcf7f6"/>
<rect x="304.31" y="803.98" width="32.03" height="2.97" fill="#e0302a"/>
<rect x="304.31" y="806.64" width="32.03" height="2.08" fill="#c5b9e0"/>
<rect x="304.31" y="808.42" width="32.03" height="2.97" fill="#8473c3"/>
<rect x="304.31" y="811.09" width="32.03" height="2.97" fill="#4152ac"/>
<rect x="304.31" y="813.75" width="32.03" height="2.97" fill="#e0302a"/>
<rect x="304.31" y="816.42" width="32.03" height="2.97" fill="#8473c3"/>
<rect x="304.31" y="819.08" width="32.03" height="2.97" fill="#4152ac"/>
<rect x="304.31" y="821.75" width="32.03" height="2.97" fill="#c5b9e0"/>
<rect x="304.31" y="824.41" width="32.03" height="2.97" fill="#4152ac"/>
<rect x="304.31" y="827.08" width="32.03" height="2.97" fill="#dcd3ec"/>
<rect x="304.31" y="829.75" width="32.03" height="2.97" fill="#fcf7f6"/>
<rect x="304.31" y="832.41" width="32.03" height="3.85" fill="#6360b8"/>
<rect x="304.31" y="835.97" width="32.03" height="2.97" fill="#dcd3ec"/>
<rect x="304.31" y="838.63" width="32.03" height="3.85" fill="#8473c3"/>
<rect x="304.31" y="842.19" width="32.03" height="2.97" fill="#c5b9e0"/>
<rect x="304.31" y="844.85" width="32.03" height="4.74" fill="#6360b8"/>
<rect x="304.31" y="849.29" width="32.03" height="3.85" fill="#8473c3"/>
<rect x="304.31" y="852.85" width="32.03" height="2.97" fill="#dcd3ec"/>
<rect x="304.31" y="855.51" width="32.03" height="3.85" fill="#ef7f68"/>
<rect x="304.31" y="859.07" width="32.03" height="2.97" fill="#c5b9e0"/>
<rect x="304.31" y="861.73" width="32.03" height="3.85" fill="#8473c3"/>
<rect x="304.31" y="865.29" width="32.03" height="2.97" fill="#e0302a"/>
<rect x="304.31" y="867.95" width="32.03" height="3.85" fill="#8473c3"/>
<rect x="304.31" y="871.51" width="32.03" height="3.85" fill="#f6c2b2"/>
<rect x="304.31" y="875.06" width="32.03" height="3.85" fill="#f4a48e"/>
<rect x="304.31" y="878.62" width="32.03" height="3.85" fill="#f9dcd3"/>
<rect x="304.31" y="882.17" width="32.03" height="3.85" fill="#fcf7f6"/>
<rect x="304.31" y="885.73" width="32.03" height="3.85" fill="#f6c2b2"/>
<rect x="304.31" y="889.28" width="32.03" height="2.97" fill="#c5b9e0"/>
<rect x="304.31" y="891.95" width="32.03" height="2.97" fill="#ef7f68"/>
<rect x="304.31" y="894.61" width="32.03" height="2.97" fill="#8473c3"/>
<rect x="304.31" y="897.28" width="32.03" height="2.97" fill="#e65038"/>
<rect x="304.31" y="899.94" width="32.03" height="2.97" fill="#8473c3"/>
<rect x="304.31" y="902.61" width="32.03" height="2.97" fill="#ef7f68"/>
<rect x="304.31" y="905.27" width="32.03" height="1.72" fill="#f6c2b2"/>
<rect x="336.04" y="744.98" width="32.03" height="4.21" fill="#f4a48e"/>
<rect x="336.04" y="748.89" width="32.03" height="5.63" fill="#f9dcd3"/>
<rect x="336.04" y="754.22" width="32.03" height="2.97" fill="#c5b9e0"/>
<rect x="336.04" y="756.88" width="32.03" height="2.08" fill="#8473c3"/>
<rect x="336.04" y="758.66" width="32.03" height="6.52" fill="#e0302a"/>
<rect x="336.04" y="764.88" width="32.03" height="2.97" fill="#ef7f68"/>
<rect x="336.04" y="767.55" width="32.03" height="2.97" fill="#c5b9e0"/>
<rect x="336.04" y="770.21" width="32.03" height="2.97" fill="#ef7f68"/>
<rect x="336.04" y="772.88" width="32.03" height="12.74" fill="#e0302a"/>
<rect x="336.04" y="785.32" width="32.03" height="2.97" fill="#f9dcd3"/>
<rect x="336.04" y="787.98" width="32.03" height="5.63" fill="#e0302a"/>
<rect x="336.04" y="793.31" width="32.03" height="2.97" fill="#e65038"/>
<rect x="336.04" y="795.98" width="32.03" height="3.85" fill="#6360b8"/>
<rect x="336.04" y="799.53" width="32.03" height="7.41" fill="#4152ac"/>
<rect x="336.04" y="806.64" width="32.03" height="2.08" fill="#8473c3"/>
<rect x="336.04" y="808.42" width="32.03" height="9.19" fill="#4152ac"/>
<rect x="336.04" y="817.31" width="32.03" height="2.97" fill="#a797d3"/>
<rect x="336.04" y="819.97" width="32.03" height="2.08" fill="#4152ac"/>
<rect x="336.04" y="821.75" width="32.03" height="7.41" fill="#a797d3"/>
<rect x="336.04" y="828.86" width="32.03" height="2.97" fill="#fcf7f6"/>
<rect x="336.04" y="831.52" width="32.03" height="2.97" fill="#8473c3"/>
<rect x="336.04" y="834.19" width="32.03" height="7.41" fill="#a797d3"/>
<rect x="336.04" y="841.30" width="32.03" height="3.85" fill="#efe8f4"/>
<rect x="336.04" y="844.85" width="32.03" height="3.85" fill="#a797d3"/>
<rect x="336.04" y="848.41" width="32.03" height="2.97" fill="#c5b9e0"/>
<rect x="336.04" y="851.07" width="32.03" height="2.97" fill="#f9dcd3"/>
<rect x="336.04" y="853.74" width="32.03" height="3.85" fill="#f4a48e"/>
<rect x="336.04" y="857.29" width="32.03" height="3.85" fill="#fcf7f6"/>
<rect x="336.04" y="860.85" width="32.03" height="3.85" fill="#ef7f68"/>
<rect x="336.04" y="864.40" width="32.03" height="2.97" fill="#dcd3ec"/>
<rect x="336.04" y="867.07" width="32.03" height="2.97" fill="#f6c2b2"/>
<rect x="336.04" y="869.73" width="32.03" height="2.97" fill="#fcf7f6"/>
<rect x="336.04" y="872.40" width="32.03" height="2.97" fill="#e0302a"/>
<rect x="336.04" y="875.06" width="32.03" height="3.85" fill="#dcd3ec"/>
<rect x="336.04" y="878.62" width="32.03" height="3.85" fill="#fcf7f6"/>
<rect x="336.04" y="882.17" width="32.03" height="2.97" fill="#a797d3"/>
<rect x="336.04" y="884.84" width="32.03" height="2.97" fill="#fcf7f6"/>
<rect x="336.04" y="887.50" width="32.03" height="2.97" fill="#ef7f68"/>
<rect x="336.04" y="890.17" width="32.03" height="2.97" fill="#8473c3"/>
<rect x="336.04" y="892.83" width="32.03" height="3.85" fill="#ef7f68"/>
<rect x="336.04" y="896.39" width="32.03" height="2.97" fill="#6360b8"/>
<rect x="336.04" y="899.05" width="32.03" height="2.97" fill="#c5b9e0"/>
<rect x="336.04" y="901.72" width="32.03" height="2.97" fill="#8473c3"/>
<rect x="336.04" y="904.39" width="32.03" height="2.61" fill="#fcf7f6"/>
<rect x="367.76" y="744.98" width="32.03" height="3.32" fill="#dcd3ec"/>
<rect x="367.76" y="748.00" width="32.03" height="2.97" fill="#a797d3"/>
<rect x="367.76" y="750.66" width="32.03" height="2.97" fill="#fcf7f6"/>
<rect x="367.76" y="753.33" width="32.03" height="2.08" fill="#c5b9e0"/>
<rect x="367.76" y="755.11" width="32.03" height="2.97" fill="#e65038"/>
<rect x="367.76" y="757.77" width="32.03" height="2.97" fill="#8473c3"/>
<rect x="367.76" y="760.44" width="32.03" height="2.97" fill="#c5b9e0"/>
<rect x="367.76" y="763.10" width="32.03" height="5.63" fill="#a797d3"/>
<rect x="367.76" y="768.43" width="32.03" height="3.85" fill="#fcf7f6"/>
<rect x="367.76" y="771.99" width="32.03" height="7.41" fill="#8473c3"/>
<rect x="367.76" y="779.10" width="32.03" height="2.97" fill="#fcf7f6"/>
<rect x="367.76" y="781.76" width="32.03" height="3.85" fill="#8473c3"/>
<rect x="367.76" y="785.32" width="32.03" height="6.52" fill="#4152ac"/>
<rect x="367.76" y="791.54" width="32.03" height="3.85" fill="#8473c3"/>
<rect x="367.76" y="795.09" width="32.03" height="2.97" fill="#dcd3ec"/>
<rect x="367.76" y="797.76" width="32.03" height="2.97" fill="#f6c2b2"/>
<rect x="367.76" y="800.42" width="32.03" height="2.97" fill="#e0302a"/>
<rect x="367.76" y="803.09" width="32.03" height="2.97" fill="#fcf7f6"/>
<rect x="367.76" y="805.75" width="32.03" height="2.97" fill="#e0302a"/>
<rect x="367.76" y="808.42" width="32.03" height="2.97" fill="#fcf7f6"/>
<rect x="367.76" y="811.09" width="32.03" height="4.74" fill="#e0302a"/>
<rect x="367.76" y="815.53" width="32.03" height="2.97" fill="#c5b9e0"/>
<rect x="367.76" y="818.19" width="32.03" height="3.85" fill="#a797d3"/>
<rect x="367.76" y="821.75" width="32.03" height="7.41" fill="#dcd3ec"/>
<rect x="367.76" y="828.86" width="32.03" height="5.63" fill="#f9dcd3"/>
<rect x="367.76" y="834.19" width="32.03" height="2.97" fill="#fcf7f6"/>
<rect x="367.76" y="836.85" width="32.03" height="3.85" fill="#a797d3"/>
<rect x="367.76" y="840.41" width="32.03" height="2.97" fill="#fcf7f6"/>
<rect x="367.76" y="843.07" width="32.03" height="2.97" fill="#f6c2b2"/>
<rect x="367.76" y="845.74" width="32.03" height="2.97" fill="#e65038"/>
<rect x="367.76" y="848.41" width="32.03" height="3.85" fill="#f6c2b2"/>
<rect x="367.76" y="851.96" width="32.03" height="3.85" fill="#a797d3"/>
<rect x="367.76" y="855.51" width="32.03" height="3.85" fill="#e0302a"/>
<rect x="367.76" y="859.07" width="32.03" height="2.97" fill="#8473c3"/>
<rect x="367.76" y="861.73" width="32.03" height="2.97" fill="#c5b9e0"/>
<rect x="367.76" y="864.40" width="32.03" height="3.85" fill="#a797d3"/>
<rect x="367.76" y="867.95" width="32.03" height="2.97" fill="#ef7f68"/>
<rect x="367.76" y="870.62" width="32.03" height="2.97" fill="#fcf7f6"/>
<rect x="367.76" y="873.29" width="32.03" height="3.85" fill="#8473c3"/>
<rect x="367.76" y="876.84" width="32.03" height="3.85" fill="#c5b9e0"/>
<rect x="367.76" y="880.39" width="32.03" height="2.08" fill="#fcf7f6"/>
<rect x="367.76" y="882.17" width="32.03" height="3.85" fill="#a797d3"/>
<rect x="367.76" y="885.73" width="32.03" height="2.97" fill="#e0302a"/>
<rect x="367.76" y="888.39" width="32.03" height="3.85" fill="#dcd3ec"/>
<rect x="367.76" y="891.95" width="32.03" height="4.74" fill="#fcf7f6"/>
<rect x="367.76" y="896.39" width="32.03" height="2.97" fill="#f9dcd3"/>
<rect x="367.76" y="899.05" width="32.03" height="2.97" fill="#8473c3"/>
<rect x="367.76" y="901.72" width="32.03" height="2.97" fill="#ef7f68"/>
<rect x="367.76" y="904.39" width="32.03" height="2.61" fill="#fcf7f6"/>
<rect x="399.49" y="744.98" width="32.03" height="2.97" fill="#8473c3"/>
<rect x="399.49" y="747.64" width="32.03" height="1.37" fill="#dcd3ec"/>
<rect x="399.49" y="748.71" width="32.03" height="3.32" fill="#6360b8"/>
<rect x="399.49" y="751.73" width="32.03" height="1.37" fill="#dcd3ec"/>
<rect x="399.49" y="752.80" width="32.03" height="2.61" fill="#a797d3"/>
<rect x="399.49" y="755.11" width="32.03" height="3.32" fill="#8473c3"/>
<rect x="399.49" y="758.13" width="32.03" height="2.08" fill="#4152ac"/>
<rect x="399.49" y="759.90" width="32.03" height="1.90" fill="#a797d3"/>
<rect x="399.49" y="761.50" width="32.03" height="3.85" fill="#dcd3ec"/>
<rect x="399.49" y="765.06" width="32.03" height="3.85" fill="#4152ac"/>
<rect x="399.49" y="768.61" width="32.03" height="2.08" fill="#6360b8"/>
<rect x="399.49" y="770.39" width="32.03" height="1.90" fill="#c5b9e0"/>
<rect x="399.49" y="771.99" width="32.03" height="3.32" fill="#a797d3"/>
<rect x="399.49" y="775.01" width="32.03" height="2.08" fill="#6360b8"/>
<rect x="399.49" y="776.79" width="32.03" height="2.08" fill="#dcd3ec"/>
<rect x="399.49" y="778.56" width="32.03" height="3.68" fill="#4152ac"/>
<rect x="399.49" y="781.94" width="32.03" height="2.08" fill="#e0302a"/>
<rect x="399.49" y="783.72" width="32.03" height="2.08" fill="#f9dcd3"/>
<rect x="399.49" y="785.49" width="32.03" height="4.92" fill="#6360b8"/>
<rect x="399.49" y="790.12" width="32.03" height="2.08" fill="#dcd3ec"/>
<rect x="399.49" y="791.89" width="32.03" height="3.85" fill="#4152ac"/>
<rect x="399.49" y="795.45" width="32.03" height="2.08" fill="#c5b9e0"/>
<rect x="399.49" y="797.22" width="32.03" height="1.90" fill="#a797d3"/>
<rect x="399.49" y="798.82" width="32.03" height="2.08" fill="#f9dcd3"/>
<rect x="399.49" y="800.60" width="32.03" height="2.61" fill="#fcf7f6"/>
<rect x="399.49" y="802.91" width="32.03" height="2.08" fill="#f6c2b2"/>
<rect x="399.49" y="804.69" width="32.03" height="2.61" fill="#dcd3ec"/>
<rect x="399.49" y="807.00" width="32.03" height="3.32" fill="#f9dcd3"/>
<rect x="399.49" y="810.02" width="32.03" height="2.61" fill="#fcf7f6"/>
<rect x="399.49" y="812.33" width="32.03" height="3.85" fill="#a797d3"/>
<rect x="399.49" y="815.88" width="32.03" height="3.68" fill="#e0302a"/>
<rect x="399.49" y="819.26" width="32.03" height="2.79" fill="#4152ac"/>
<rect x="399.49" y="821.75" width="32.03" height="2.61" fill="#e0302a"/>
<rect x="399.49" y="824.06" width="32.03" height="3.68" fill="#e65038"/>
<rect x="399.49" y="827.44" width="32.03" height="6.16" fill="#e0302a"/>
<rect x="399.49" y="833.30" width="32.03" height="3.85" fill="#fcf7f6"/>
<rect x="399.49" y="836.85" width="32.03" height="3.85" fill="#f9dcd3"/>
<rect x="399.49" y="840.41" width="32.03" height="9.19" fill="#e0302a"/>
<rect x="399.49" y="849.29" width="32.03" height="3.85" fill="#ef7f68"/>
<rect x="399.49" y="852.85" width="32.03" height="2.97" fill="#c5b9e0"/>
<rect x="399.49" y="855.51" width="32.03" height="2.97" fill="#8473c3"/>
<rect x="399.49" y="858.18" width="32.03" height="2.97" fill="#f6c2b2"/>
<rect x="399.49" y="860.85" width="32.03" height="2.97" fill="#8473c3"/>
<rect x="399.49" y="863.51" width="32.03" height="3.85" fill="#e0302a"/>
<rect x="399.49" y="867.07" width="32.03" height="2.97" fill="#8473c3"/>
<rect x="399.49" y="869.73" width="32.03" height="2.97" fill="#ef7f68"/>
<rect x="399.49" y="872.40" width="32.03" height="4.74" fill="#e65038"/>
<rect x="399.49" y="876.84" width="32.03" height="3.85" fill="#f4a48e"/>
<rect x="399.49" y="880.39" width="32.03" height="2.97" fill="#f9dcd3"/>
<rect x="399.49" y="883.06" width="32.03" height="2.97" fill="#8473c3"/>
<rect x="399.49" y="885.73" width="32.03" height="6.52" fill="#e0302a"/>
<rect x="399.49" y="891.95" width="32.03" height="2.97" fill="#a797d3"/>
<rect x="399.49" y="894.61" width="32.03" height="3.85" fill="#e0302a"/>
<rect x="399.49" y="898.17" width="32.03" height="2.97" fill="#a797d3"/>
<rect x="399.49" y="900.83" width="32.03" height="2.97" fill="#ef7f68"/>
<rect x="399.49" y="903.50" width="32.03" height="3.50" fill="#c5b9e0"/>
<rect x="431.22" y="744.98" width="32.03" height="2.25" fill="#a797d3"/>
<rect x="431.22" y="746.93" width="32.03" height="4.39" fill="#dcd3ec"/>
<rect x="431.22" y="751.02" width="32.03" height="3.85" fill="#c5b9e0"/>
<rect x="431.22" y="754.57" width="32.03" height="2.61" fill="#fcf7f6"/>
<rect x="431.22" y="756.88" width="32.03" height="2.08" fill="#e65038"/>
<rect x="431.22" y="758.66" width="32.03" height="2.61" fill="#fcf7f6"/>
<rect x="431.22" y="760.97" width="32.03" height="5.63" fill="#f9dcd3"/>
<rect x="431.22" y="766.30" width="32.03" height="2.08" fill="#4152ac"/>
<rect x="431.22" y="768.08" width="32.03" height="2.61" fill="#6360b8"/>
<rect x="431.22" y="770.39" width="32.03" height="4.92" fill="#a797d3"/>
<rect x="431.22" y="775.01" width="32.03" height="3.14" fill="#c5b9e0"/>
<rect x="431.22" y="777.85" width="32.03" height="4.39" fill="#e0302a"/>
<rect x="431.22" y="781.94" width="32.03" height="4.39" fill="#4152ac"/>
<rect x="431.22" y="786.03" width="32.03" height="4.39" fill="#a797d3"/>
<rect x="431.22" y="790.12" width="32.03" height="5.63" fill="#4152ac"/>
<rect x="431.22" y="795.45" width="32.03" height="3.14" fill="#e0302a"/>
<rect x="431.22" y="798.29" width="32.03" height="2.61" fill="#f9dcd3"/>
<rect x="431.22" y="800.60" width="32.03" height="2.61" fill="#e0302a"/>
<rect x="431.22" y="802.91" width="32.03" height="2.79" fill="#fcf7f6"/>
<rect x="431.22" y="805.40" width="32.03" height="2.61" fill="#f6c2b2"/>
<rect x="431.22" y="807.71" width="32.03" height="5.99" fill="#e65038"/>
<rect x="431.22" y="813.40" width="32.03" height="2.79" fill="#f9dcd3"/>
<rect x="431.22" y="815.88" width="32.03" height="6.16" fill="#e0302a"/>
<rect x="431.22" y="821.75" width="32.03" height="2.61" fill="#ef7f68"/>
<rect x="431.22" y="824.06" width="32.03" height="3.14" fill="#f9dcd3"/>
<rect x="431.22" y="826.90" width="32.03" height="4.03" fill="#c5b9e0"/>
<rect x="431.22" y="830.63" width="32.03" height="6.52" fill="#e0302a"/>
<rect x="431.22" y="836.85" width="32.03" height="2.97" fill="#e65038"/>
<rect x="431.22" y="839.52" width="32.03" height="3.85" fill="#ef7f68"/>
<rect x="431.22" y="843.07" width="32.03" height="3.85" fill="#e0302a"/>
<rect x="431.22" y="846.63" width="32.03" height="2.97" fill="#8473c3"/>
<rect x="431.22" y="849.29" width="32.03" height="3.85" fill="#f9dcd3"/>
<rect x="431.22" y="852.85" width="32.03" height="3.85" fill="#4152ac"/>
<rect x="431.22" y="856.40" width="32.03" height="2.97" fill="#f6c2b2"/>
<rect x="431.22" y="859.07" width="32.03" height="2.97" fill="#c5b9e0"/>
<rect x="431.22" y="861.73" width="32.03" height="2.97" fill="#fcf7f6"/>
<rect x="431.22" y="864.40" width="32.03" height="2.97" fill="#8473c3"/>
<rect x="431.22" y="867.07" width="32.03" height="2.97" fill="#ef7f68"/>
<rect x="431.22" y="869.73" width="32.03" height="2.97" fill="#c5b9e0"/>
<rect x="431.22" y="872.40" width="32.03" height="2.97" fill="#fcf7f6"/>
<rect x="431.22" y="875.06" width="32.03" height="2.97" fill="#4152ac"/>
<rect x="431.22" y="877.73" width="32.03" height="6.52" fill="#8473c3"/>
<rect x="431.22" y="883.95" width="32.03" height="2.97" fill="#c5b9e0"/>
<rect x="431.22" y="886.61" width="32.03" height="2.97" fill="#4152ac"/>
<rect x="431.22" y="889.28" width="32.03" height="3.85" fill="#f6c2b2"/>
<rect x="431.22" y="892.83" width="32.03" height="2.97" fill="#ef7f68"/>
<rect x="431.22" y="895.50" width="32.03" height="2.97" fill="#8473c3"/>
<rect x="431.22" y="898.17" width="32.03" height="2.97" fill="#fcf7f6"/>
<rect x="431.22" y="900.83" width="32.03" height="2.97" fill="#8473c3"/>
<rect x="431.22" y="903.50" width="32.03" height="3.50" fill="#c5b9e0"/>
<rect x="462.95" y="744.98" width="32.03" height="10.43" fill="#6360b8"/>
<rect x="462.95" y="755.11" width="32.03" height="2.08" fill="#dcd3ec"/>
<rect x="462.95" y="756.88" width="32.03" height="2.61" fill="#efe8f4"/>
<rect x="462.95" y="759.19" width="32.03" height="4.39" fill="#a797d3"/>
<rect x="462.95" y="763.28" width="32.03" height="5.10" fill="#8473c3"/>
<rect x="462.95" y="768.08" width="32.03" height="2.61" fill="#4152ac"/>
<rect x="462.95" y="770.39" width="32.03" height="2.08" fill="#dcd3ec"/>
<rect x="462.95" y="772.17" width="32.03" height="5.99" fill="#4152ac"/>
<rect x="462.95" y="777.85" width="32.03" height="3.85" fill="#f9dcd3"/>
<rect x="462.95" y="781.41" width="32.03" height="1.54" fill="#fcf7f6"/>
<rect x="462.95" y="782.65" width="32.03" height="13.10" fill="#4152ac"/>
<rect x="462.95" y="795.45" width="32.03" height="2.08" fill="#f6c2b2"/>
<rect x="462.95" y="797.22" width="32.03" height="4.92" fill="#f4a48e"/>
<rect x="462.95" y="801.84" width="32.03" height="2.08" fill="#e0302a"/>
<rect x="462.95" y="803.62" width="32.03" height="3.14" fill="#dcd3ec"/>
<rect x="462.95" y="806.47" width="32.03" height="1.54" fill="#ef7f68"/>
<rect x="462.95" y="807.71" width="32.03" height="6.16" fill="#e0302a"/>
<rect x="462.95" y="813.57" width="32.03" height="2.61" fill="#f9dcd3"/>
<rect x="462.95" y="815.88" width="32.03" height="3.14" fill="#c5b9e0"/>
<rect x="462.95" y="818.73" width="32.03" height="6.16" fill="#e0302a"/>
<rect x="462.95" y="824.59" width="32.03" height="3.14" fill="#e65038"/>
<rect x="462.95" y="827.44" width="32.03" height="3.50" fill="#ef7f68"/>
<rect x="462.95" y="830.63" width="32.03" height="10.96" fill="#e0302a"/>
<rect x="462.95" y="841.30" width="32.03" height="5.63" fill="#f9dcd3"/>
<rect x="462.95" y="846.63" width="32.03" height="2.97" fill="#efe8f4"/>
<rect x="462.95" y="849.29" width="32.03" height="2.97" fill="#8473c3"/>
<rect x="462.95" y="851.96" width="32.03" height="2.97" fill="#fcf7f6"/>
<rect x="462.95" y="854.63" width="32.03" height="2.08" fill="#4152ac"/>
<rect x="462.95" y="856.40" width="32.03" height="2.97" fill="#e0302a"/>
<rect x="462.95" y="859.07" width="32.03" height="2.97" fill="#fcf7f6"/>
<rect x="462.95" y="861.73" width="32.03" height="2.97" fill="#8473c3"/>
<rect x="462.95" y="864.40" width="32.03" height="2.97" fill="#e0302a"/>
<rect x="462.95" y="867.07" width="32.03" height="2.97" fill="#fcf7f6"/>
<rect x="462.95" y="869.73" width="32.03" height="3.85" fill="#ef7f68"/>
<rect x="462.95" y="873.29" width="32.03" height="4.74" fill="#8473c3"/>
<rect x="462.95" y="877.73" width="32.03" height="2.97" fill="#efe8f4"/>
<rect x="462.95" y="880.39" width="32.03" height="3.85" fill="#c5b9e0"/>
<rect x="462.95" y="883.95" width="32.03" height="2.97" fill="#a797d3"/>
<rect x="462.95" y="886.61" width="32.03" height="3.85" fill="#fcf7f6"/>
<rect x="462.95" y="890.17" width="32.03" height="3.85" fill="#e0302a"/>
<rect x="462.95" y="893.72" width="32.03" height="2.97" fill="#8473c3"/>
<rect x="462.95" y="896.39" width="32.03" height="2.97" fill="#f6c2b2"/>
<rect x="462.95" y="899.05" width="32.03" height="2.97" fill="#c5b9e0"/>
<rect x="462.95" y="901.72" width="32.03" height="2.97" fill="#fcf7f6"/>
<rect x="462.95" y="904.39" width="32.03" height="2.61" fill="#f6c2b2"/>
<rect x="494.67" y="744.98" width="32.03" height="1.72" fill="#c5b9e0"/>
<rect x="494.67" y="746.40" width="32.03" height="2.61" fill="#4152ac"/>
<rect x="494.67" y="748.71" width="32.03" height="6.70" fill="#fcf7f6"/>
<rect x="494.67" y="755.11" width="32.03" height="2.08" fill="#c5b9e0"/>
<rect x="494.67" y="756.88" width="32.03" height="2.61" fill="#4152ac"/>
<rect x="494.67" y="759.19" width="32.03" height="2.08" fill="#f4a48e"/>
<rect x="494.67" y="760.97" width="32.03" height="2.61" fill="#ef7f68"/>
<rect x="494.67" y="763.28" width="32.03" height="2.08" fill="#f9dcd3"/>
<rect x="494.67" y="765.06" width="32.03" height="5.63" fill="#4152ac"/>
<rect x="494.67" y="770.39" width="32.03" height="3.68" fill="#8473c3"/>
<rect x="494.67" y="773.77" width="32.03" height="7.41" fill="#6360b8"/>
<rect x="494.67" y="780.87" width="32.03" height="2.08" fill="#fcf7f6"/>
<rect x="494.67" y="782.65" width="32.03" height="5.45" fill="#4152ac"/>
<rect x="494.67" y="787.81" width="32.03" height="2.08" fill="#8473c3"/>
<rect x="494.67" y="789.58" width="32.03" height="3.14" fill="#6360b8"/>
<rect x="494.67" y="792.43" width="32.03" height="3.32" fill="#4152ac"/>
<rect x="494.67" y="795.45" width="32.03" height="2.08" fill="#ef7f68"/>
<rect x="494.67" y="797.22" width="32.03" height="3.68" fill="#f9dcd3"/>
<rect x="494.67" y="800.60" width="32.03" height="6.70" fill="#e0302a"/>
<rect x="494.67" y="807.00" width="32.03" height="3.32" fill="#f9dcd3"/>
<rect x="494.67" y="810.02" width="32.03" height="2.08" fill="#fcf7f6"/>
<rect x="494.67" y="811.80" width="32.03" height="15.94" fill="#e0302a"/>
<rect x="494.67" y="827.44" width="32.03" height="3.50" fill="#c5b9e0"/>
<rect x="494.67" y="830.63" width="32.03" height="2.97" fill="#fcf7f6"/>
<rect x="494.67" y="833.30" width="32.03" height="3.85" fill="#f9dcd3"/>
<rect x="494.67" y="836.85" width="32.03" height="3.85" fill="#fcf7f6"/>
<rect x="494.67" y="840.41" width="32.03" height="4.74" fill="#e0302a"/>
<rect x="494.67" y="844.85" width="32.03" height="2.97" fill="#ef7f68"/>
<rect x="494.67" y="847.52" width="32.03" height="2.97" fill="#a797d3"/>
<rect x="494.67" y="850.18" width="32.03" height="2.97" fill="#f4a48e"/>
<rect x="494.67" y="852.85" width="32.03" height="3.85" fill="#4152ac"/>
<rect x="494.67" y="856.40" width="32.03" height="2.97" fill="#c5b9e0"/>
<rect x="494.67" y="859.07" width="32.03" height="3.85" fill="#8473c3"/>
<rect x="494.67" y="862.62" width="32.03" height="2.08" fill="#ef7f68"/>
<rect x="494.67" y="864.40" width="32.03" height="2.97" fill="#f9dcd3"/>
<rect x="494.67" y="867.07" width="32.03" height="2.97" fill="#8473c3"/>
<rect x="494.67" y="869.73" width="32.03" height="2.97" fill="#ef7f68"/>
<rect x="494.67" y="872.40" width="32.03" height="2.97" fill="#a797d3"/>
<rect x="494.67" y="875.06" width="32.03" height="8.30" fill="#4152ac"/>
<rect x="494.67" y="883.06" width="32.03" height="2.97" fill="#ef7f68"/>
<rect x="494.67" y="885.73" width="32.03" height="2.97" fill="#f6c2b2"/>
<rect x="494.67" y="888.39" width="32.03" height="2.97" fill="#ef7f68"/>
<rect x="494.67" y="891.06" width="32.03" height="2.97" fill="#4152ac"/>
<rect x="494.67" y="893.72" width="32.03" height="2.97" fill="#fcf7f6"/>
<rect x="494.67" y="896.39" width="32.03" height="2.97" fill="#e0302a"/>
<rect x="494.67" y="899.05" width="32.03" height="2.97" fill="#8473c3"/>
<rect x="494.67" y="901.72" width="32.03" height="2.97" fill="#f6c2b2"/>
<rect x="494.67" y="904.39" width="32.03" height="2.61" fill="#c5b9e0"/>
<text transform="translate(203.3,920.5) rotate(-57)" font-family="Liberation Sans, sans-serif" font-size="19.5" fill="#111" stroke="#111" stroke-width="0.3" text-anchor="end">Il10ra</text>
<text transform="translate(235.0,920.5) rotate(-57)" font-family="Liberation Sans, sans-serif" font-size="19.5" fill="#111" stroke="#111" stroke-width="0.3" text-anchor="end">Iba1</text>
<text transform="translate(266.7,920.5) rotate(-57)" font-family="Liberation Sans, sans-serif" font-size="19.5" fill="#111" stroke="#111" stroke-width="0.3" text-anchor="end">Tgfbr1</text>
<text transform="translate(298.4,920.5) rotate(-57)" font-family="Liberation Sans, sans-serif" font-size="19.5" fill="#111" stroke="#111" stroke-width="0.3" text-anchor="end">Csf1r</text>
<text transform="translate(330.2,920.5) rotate(-57)" font-family="Liberation Sans, sans-serif" font-size="19.5" fill="#111" stroke="#111" stroke-width="0.3" text-anchor="end">Il16</text>
<text transform="translate(361.9,920.5) rotate(-57)" font-family="Liberation Sans, sans-serif" font-size="19.5" fill="#111" stroke="#111" stroke-width="0.3" text-anchor="end">Ifngr1</text>
<text transform="translate(393.6,920.5) rotate(-57)" font-family="Liberation Sans, sans-serif" font-size="19.5" fill="#111" stroke="#111" stroke-width="0.3" text-anchor="end">IL-1a</text>
<text transform="translate(425.4,920.5) rotate(-57)" font-family="Liberation Sans, sans-serif" font-size="19.5" fill="#111" stroke="#111" stroke-width="0.3" text-anchor="end">Ctsd</text>
<text transform="translate(457.1,920.5) rotate(-57)" font-family="Liberation Sans, sans-serif" font-size="19.5" fill="#111" stroke="#111" stroke-width="0.3" text-anchor="end">Ccl2</text>
<text transform="translate(488.8,920.5) rotate(-57)" font-family="Liberation Sans, sans-serif" font-size="19.5" fill="#111" stroke="#111" stroke-width="0.3" text-anchor="end">Ccl3</text>
<text transform="translate(520.5,920.5) rotate(-57)" font-family="Liberation Sans, sans-serif" font-size="19.5" fill="#111" stroke="#111" stroke-width="0.3" text-anchor="end">Ccl4</text>
<defs><linearGradient id="zg" x1="0" y1="0" x2="0" y2="1"><stop offset="0" stop-color="#dd2a26"/><stop offset="0.25" stop-color="#ee7a62"/><stop offset="0.5" stop-color="#fdf8f8"/><stop offset="0.75" stop-color="#9e8cca"/><stop offset="1" stop-color="#3f54a8"/></linearGradient></defs>
<text transform="translate(556.3,777) scale(1.15,1)" font-family="Liberation Sans, sans-serif" font-size="21" fill="#111" stroke="#111" stroke-width="0.3">z&#8722;score</text>
<rect x="560.7" y="783.1" width="24.3" height="115.2" fill="url(#zg)"/>
<line x1="560.7" y1="790.2" x2="566.8" y2="790.2" stroke="#fff" stroke-width="1.2"/>
<line x1="578.8" y1="790.2" x2="585" y2="790.2" stroke="#fff" stroke-width="1.2"/>
<text transform="translate(595,797.2) scale(1.12,1)" font-family="Liberation Sans, sans-serif" font-size="17.3" fill="#111" stroke="#111" stroke-width="0.3">1</text>
<line x1="560.7" y1="815.3" x2="566.8" y2="815.3" stroke="#fff" stroke-width="1.2"/>
<line x1="578.8" y1="815.3" x2="585" y2="815.3" stroke="#fff" stroke-width="1.2"/>
<text transform="translate(595,822.3) scale(1.12,1)" font-family="Liberation Sans, sans-serif" font-size="17.3" fill="#111" stroke="#111" stroke-width="0.3">0.5</text>
<line x1="560.7" y1="840" x2="566.8" y2="840" stroke="#fff" stroke-width="1.2"/>
<line x1="578.8" y1="840" x2="585" y2="840" stroke="#fff" stroke-width="1.2"/>
<text transform="translate(595,847) scale(1.12,1)" font-family="Liberation Sans, sans-serif" font-size="17.3" fill="#111" stroke="#111" stroke-width="0.3">0</text>
<line x1="560.7" y1="864.6" x2="566.8" y2="864.6" stroke="#fff" stroke-width="1.2"/>
<line x1="578.8" y1="864.6" x2="585" y2="864.6" stroke="#fff" stroke-width="1.2"/>
<text transform="translate(595,871.6) scale(1.12,1)" font-family="Liberation Sans, sans-serif" font-size="17.3" fill="#111" stroke="#111" stroke-width="0.3">&#8722;0.5</text>
<line x1="560.7" y1="890.2" x2="566.8" y2="890.2" stroke="#fff" stroke-width="1.2"/>
<line x1="578.8" y1="890.2" x2="585" y2="890.2" stroke="#fff" stroke-width="1.2"/>
<text transform="translate(595,897.2) scale(1.12,1)" font-family="Liberation Sans, sans-serif" font-size="17.3" fill="#111" stroke="#111" stroke-width="0.3">&#8722;1</text>
</svg></body></html>
